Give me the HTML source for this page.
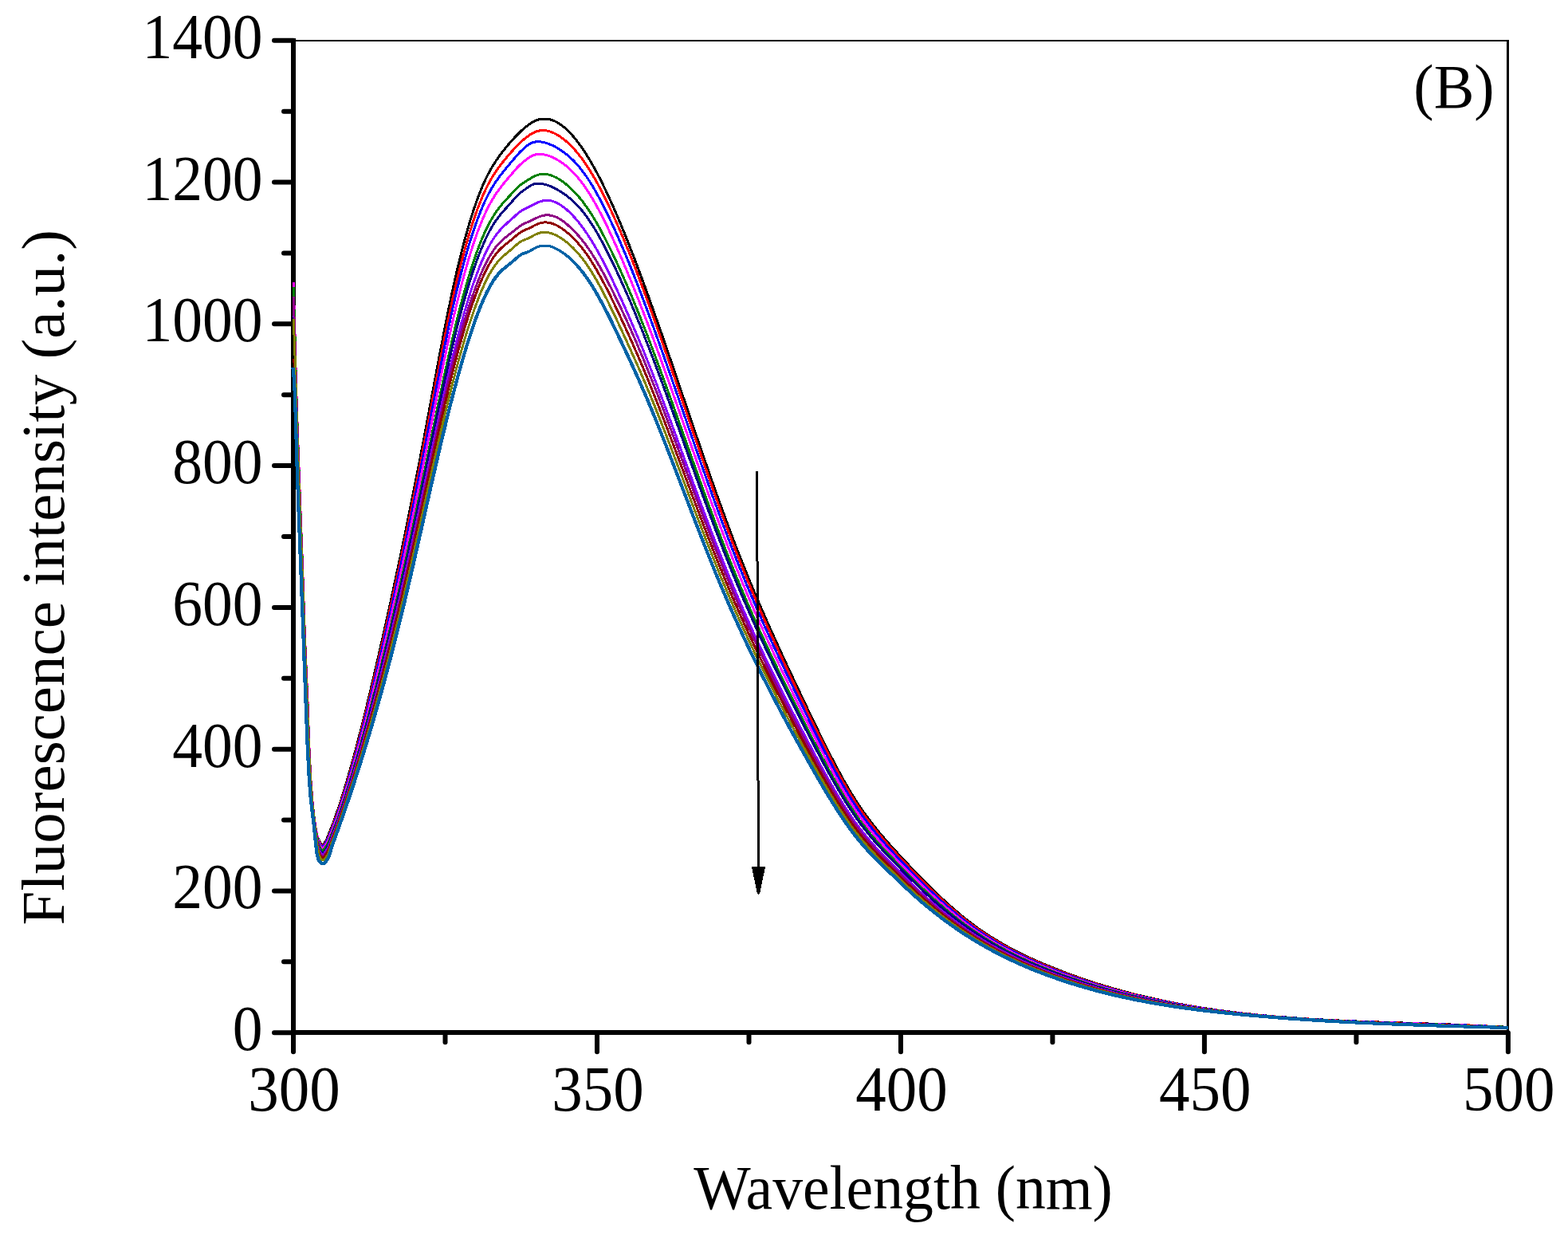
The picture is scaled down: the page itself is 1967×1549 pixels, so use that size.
<!DOCTYPE html>
<html><head><meta charset="utf-8"><title>Fluorescence spectra (B)</title><style>
html,body{margin:0;padding:0;background:#fff;}
svg{display:block;}
text{font-family:"Liberation Serif","Times New Roman",serif;font-size:75.5px;fill:#000;}
</style></head><body>
<svg width="1967" height="1549" viewBox="0 0 1967 1549">
<rect width="1967" height="1549" fill="#fff"/>
<g stroke="#000" fill="none">
<line x1="368" y1="51" x2="1893" y2="51" stroke-width="2.2"/>
<line x1="1891.5" y1="50" x2="1891.5" y2="1295" stroke-width="3"/>
<line x1="368" y1="48" x2="368" y2="1298" stroke-width="6"/>
<line x1="365" y1="1295.1" x2="1892" y2="1295.1" stroke-width="6"/>
</g>
<g stroke="#000" stroke-width="6" stroke-linecap="round" fill="none">
<line x1="344.0" y1="1295.2" x2="368" y2="1295.2"/><line x1="356.0" y1="1206.3" x2="368" y2="1206.3"/><line x1="344.0" y1="1117.4" x2="368" y2="1117.4"/><line x1="356.0" y1="1028.5" x2="368" y2="1028.5"/><line x1="344.0" y1="939.7" x2="368" y2="939.7"/><line x1="356.0" y1="850.8" x2="368" y2="850.8"/><line x1="344.0" y1="761.9" x2="368" y2="761.9"/><line x1="356.0" y1="673.0" x2="368" y2="673.0"/><line x1="344.0" y1="584.1" x2="368" y2="584.1"/><line x1="356.0" y1="495.2" x2="368" y2="495.2"/><line x1="344.0" y1="406.3" x2="368" y2="406.3"/><line x1="356.0" y1="317.5" x2="368" y2="317.5"/><line x1="344.0" y1="228.6" x2="368" y2="228.6"/><line x1="356.0" y1="139.7" x2="368" y2="139.7"/><line x1="344.0" y1="50.8" x2="368" y2="50.8"/><line x1="368.0" y1="1295.2" x2="368.0" y2="1319.2"/><line x1="558.5" y1="1295.2" x2="558.5" y2="1307.2"/><line x1="749.0" y1="1295.2" x2="749.0" y2="1319.2"/><line x1="939.5" y1="1295.2" x2="939.5" y2="1307.2"/><line x1="1130.0" y1="1295.2" x2="1130.0" y2="1319.2"/><line x1="1320.4" y1="1295.2" x2="1320.4" y2="1307.2"/><line x1="1510.9" y1="1295.2" x2="1510.9" y2="1319.2"/><line x1="1701.4" y1="1295.2" x2="1701.4" y2="1307.2"/><line x1="1891.9" y1="1295.2" x2="1891.9" y2="1319.2"/>
</g>
<g fill="none" stroke-width="3.0" stroke-linejoin="round" stroke-linecap="butt" shape-rendering="crispEdges">
<path d="M368,392.0 368.5,401.2 369,412.0 369.5,424.1 370,438.6 370.5,455.6 371,473.3 371.5,491.7 372,508.7 372.5,525.1 373,540.9 373.5,555.9 374,570.3 374.5,584.4 375,598.4 375.5,612.4 376,626.2 376.5,639.7 377,653.0 377.5,666.2 378,679.5 378.5,692.8 379,706.4 379.5,720.3 380,734.7 380.5,749.5 381,764.3 381.5,779.0 382,793.4 382.5,807.1 383,820.1 383.5,832.4 384,844.3 386,892.3 388,946.0 390,983.5 392,1008.1 394,1025.9 396,1040.4 398,1049.2 400,1053.7 402,1057.7 404,1059.8 406,1059.4 408,1055.9 410,1052.3 412,1047.3 414,1042.2 416,1037.2 418,1031.9 420,1026.4 422,1020.7 424,1014.9 426,1008.9 428,1002.8 430,996.4 432,990.0 434,983.4 436,976.6 438,969.7 440,962.7 442,955.5 444,948.2 446,940.8 448,933.3 450,925.6 452,917.8 454,910.0 456,902.0 458,893.9 460,885.8 462,877.5 464,869.2 466,860.7 468,852.2 470,843.7 472,835.0 474,826.3 476,817.5 478,808.7 480,799.8 482,790.9 484,781.9 486,772.9 488,763.8 490,754.7 492,745.5 494,736.2 496,726.9 498,717.6 500,708.2 502,698.7 504,689.2 506,679.6 508,669.9 510,660.2 512,650.4 514,640.5 516,630.6 518,620.6 520,610.6 522,600.5 524,590.3 526,580.0 528,569.7 530,559.2 532,548.8 534,538.2 536,527.6 538,516.9 540,506.2 542,495.5 544,484.8 546,474.1 548,463.5 550,452.9 552,442.4 554,432.0 556,421.7 558,411.5 560,401.4 562,391.5 564,381.8 566,372.3 568,363.0 570,353.9 572,345.0 574,336.4 576,328.0 578,319.9 580,312.0 582,304.4 584,297.0 586,289.8 588,282.9 590,276.3 592,269.9 594,263.7 596,257.8 598,252.1 600,246.6 602,241.5 604,236.5 606,231.8 608,227.3 610,223.1 612,219.1 614,215.3 616,211.7 618,208.3 620,205.1 622,202.0 624,199.1 626,196.3 628,193.6 630,190.9 632,188.4 634,185.9 636,183.4 638,181.0 640,178.7 642,176.4 644,174.2 646,172.1 648,170.0 650,167.9 652,166.0 654,164.1 656,162.2 658,160.5 660,158.9 662,157.3 664,155.9 666,154.5 668,153.3 670,152.3 672,151.3 674,150.5 676,149.9 678,149.4 680,149.1 682,149.0 684,149.0 686,149.1 688,149.4 690,149.8 692,150.4 694,151.2 696,152.0 698,153.0 700,154.1 702,155.4 704,156.8 706,158.3 708,159.9 710,161.6 712,163.5 714,165.5 716,167.6 718,169.8 720,172.1 722,174.5 724,177.1 726,179.7 728,182.5 730,185.3 732,188.3 734,191.3 736,194.4 738,197.7 740,201.0 742,204.4 744,207.9 746,211.5 748,215.2 750,219.0 752,222.8 754,226.8 756,230.8 758,234.9 760,239.0 762,243.3 764,247.6 766,252.0 768,256.4 770,260.9 772,265.5 774,270.1 776,274.8 778,279.6 780,284.4 782,289.3 784,294.2 786,299.2 788,304.2 790,309.3 792,314.4 794,319.5 796,324.7 798,330.0 800,335.3 802,340.6 804,346.0 806,351.4 808,356.9 810,362.3 812,367.8 814,373.4 816,379.0 818,384.6 820,390.2 822,395.9 824,401.6 826,407.3 828,413.0 830,418.7 832,424.5 834,430.3 836,436.1 838,441.9 840,447.8 842,453.6 844,459.5 846,465.3 848,471.2 850,477.1 852,483.0 854,488.9 856,494.8 858,500.7 860,506.6 862,512.5 864,518.4 866,524.3 868,530.2 870,536.0 872,541.9 874,547.8 876,553.6 878,559.5 880,565.3 882,571.1 884,576.9 886,582.7 888,588.5 890,594.2 892,599.9 894,605.6 896,611.3 898,616.9 900,622.6 902,628.2 904,633.7 906,639.2 908,644.7 910,650.2 912,655.6 914,661.0 916,666.4 918,671.7 920,677.0 922,682.2 924,687.4 926,692.5 928,697.6 930,702.7 932,707.7 934,712.7 936,717.6 938,722.6 940,727.4 942,732.3 944,737.1 946,741.8 948,746.6 950,751.3 952,756.0 954,760.6 956,765.2 958,769.8 960,774.4 962,778.9 964,783.4 966,787.9 968,792.4 970,796.8 972,801.2 974,805.6 976,810.0 978,814.4 980,818.7 982,823.1 984,827.4 986,831.7 988,836.0 990,840.2 992,844.5 994,848.8 996,853.0 998,857.2 1000,861.4 1002,865.7 1004,869.9 1006,874.1 1008,878.3 1010,882.5 1012,886.7 1014,890.9 1016,895.0 1018,899.2 1020,903.4 1022,907.5 1024,911.7 1026,915.8 1028,919.9 1030,924.0 1032,928.0 1034,932.1 1036,936.1 1038,940.1 1040,944.0 1042,947.9 1044,951.8 1046,955.7 1048,959.5 1050,963.2 1052,967.0 1054,970.6 1056,974.3 1058,977.9 1060,981.4 1062,984.9 1064,988.3 1066,991.7 1068,995.0 1070,998.3 1072,1001.5 1074,1004.6 1076,1007.7 1078,1010.7 1080,1013.7 1082,1016.6 1084,1019.4 1086,1022.2 1088,1025.0 1090,1027.6 1092,1030.3 1094,1032.9 1096,1035.4 1098,1038.0 1100,1040.4 1102,1042.9 1104,1045.3 1106,1047.7 1108,1050.0 1110,1052.3 1112,1054.6 1114,1056.9 1116,1059.1 1118,1061.4 1120,1063.6 1122,1065.8 1124,1067.9 1126,1070.1 1128,1072.3 1130,1074.4 1132,1076.6 1134,1078.7 1136,1080.8 1138,1082.9 1140,1085.1 1142,1087.2 1144,1089.3 1146,1091.4 1148,1093.5 1150,1095.5 1152,1097.6 1154,1099.7 1156,1101.7 1158,1103.7 1160,1105.8 1162,1107.8 1164,1109.8 1166,1111.8 1168,1113.7 1170,1115.7 1172,1117.6 1174,1119.6 1176,1121.5 1178,1123.4 1180,1125.3 1182,1127.2 1184,1129.0 1186,1130.8 1188,1132.7 1190,1134.5 1192,1136.3 1194,1138.0 1196,1139.8 1198,1141.5 1200,1143.2 1204,1146.6 1208,1149.9 1212,1153.1 1216,1156.2 1220,1159.2 1224,1162.1 1228,1165.0 1232,1167.8 1236,1170.5 1240,1173.1 1244,1175.6 1248,1178.1 1252,1180.5 1256,1182.9 1260,1185.2 1264,1187.4 1268,1189.6 1272,1191.7 1276,1193.7 1280,1195.8 1284,1197.7 1288,1199.6 1292,1201.5 1296,1203.3 1300,1205.1 1304,1206.9 1308,1208.6 1312,1210.3 1316,1211.9 1320,1213.5 1324,1215.1 1328,1216.7 1332,1218.3 1336,1219.8 1340,1221.3 1344,1222.7 1348,1224.2 1352,1225.6 1356,1227.0 1360,1228.4 1364,1229.7 1368,1231.0 1372,1232.3 1376,1233.6 1380,1234.9 1384,1236.1 1388,1237.3 1392,1238.5 1396,1239.7 1400,1240.8 1404,1241.9 1408,1243.0 1412,1244.1 1416,1245.1 1420,1246.2 1424,1247.2 1428,1248.2 1432,1249.1 1436,1250.1 1440,1251.0 1444,1251.9 1448,1252.8 1452,1253.7 1456,1254.6 1460,1255.4 1464,1256.2 1468,1257.0 1472,1257.8 1476,1258.6 1480,1259.3 1484,1260.1 1488,1260.8 1492,1261.5 1496,1262.2 1500,1262.8 1504,1263.5 1508,1264.1 1512,1264.7 1516,1265.3 1520,1265.9 1524,1266.5 1528,1267.1 1532,1267.6 1536,1268.2 1540,1268.7 1544,1269.2 1548,1269.7 1552,1270.1 1556,1270.6 1560,1271.1 1564,1271.5 1568,1271.9 1572,1272.4 1576,1272.8 1580,1273.2 1584,1273.5 1588,1273.9 1592,1274.3 1596,1274.6 1600,1275.0 1604,1275.3 1608,1275.6 1612,1275.9 1616,1276.2 1620,1276.5 1624,1276.8 1628,1277.1 1632,1277.4 1636,1277.6 1640,1277.9 1644,1278.1 1648,1278.4 1652,1278.6 1656,1278.8 1660,1279.0 1664,1279.2 1668,1279.4 1672,1279.6 1676,1279.8 1680,1280.0 1684,1280.2 1688,1280.4 1692,1280.6 1696,1280.7 1700,1280.9 1704,1281.1 1708,1281.2 1712,1281.4 1716,1281.5 1720,1281.7 1724,1281.8 1728,1281.9 1732,1282.1 1736,1282.2 1740,1282.4 1744,1282.5 1748,1282.6 1752,1282.7 1756,1282.9 1760,1283.0 1764,1283.1 1768,1283.3 1772,1283.4 1776,1283.5 1780,1283.6 1784,1283.8 1788,1283.9 1792,1284.0 1796,1284.2 1800,1284.3 1804,1284.4 1808,1284.6 1812,1284.7 1816,1284.9 1820,1285.0 1824,1285.2 1828,1285.3 1832,1285.5 1836,1285.6 1840,1285.8 1844,1286.0 1848,1286.1 1852,1286.3 1856,1286.5 1860,1286.7 1864,1286.9 1868,1287.1 1872,1287.3 1876,1287.5 1880,1287.7 1884,1287.9 1888,1288.2 1892,1288.4" stroke="#000000"/>
<path d="M368,392.0 368.5,401.2 369,412.0 369.5,424.1 370,438.6 370.5,455.6 371,473.3 371.5,491.7 372,508.7 372.5,525.1 373,540.9 373.5,555.9 374,570.3 374.5,584.4 375,598.4 375.5,612.4 376,626.2 376.5,639.7 377,653.0 377.5,666.2 378,679.5 378.5,692.8 379,706.4 379.5,720.3 380,734.7 380.5,749.5 381,764.3 381.5,779.0 382,793.4 382.5,807.1 383,820.1 383.5,832.4 384,844.3 386,892.3 388,946.0 390,983.5 392,1008.1 394,1025.9 396,1040.5 398,1049.8 400,1054.8 402,1058.8 404,1061.0 406,1060.6 408,1057.2 410,1053.7 412,1048.9 414,1044.0 416,1038.9 418,1033.7 420,1028.4 422,1022.8 424,1017.0 426,1011.1 428,1005.0 430,998.7 432,992.3 434,985.8 436,979.1 438,972.3 440,965.4 442,958.3 444,951.1 446,943.8 448,936.4 450,928.8 452,921.2 454,913.5 456,905.6 458,897.7 460,889.7 462,881.5 464,873.3 466,865.1 468,856.7 470,848.3 472,839.8 474,831.2 476,822.6 478,813.9 480,805.2 482,796.4 484,787.6 486,778.7 488,769.7 490,760.7 492,751.7 494,742.5 496,733.4 498,724.1 500,714.8 502,705.5 504,696.1 506,686.6 508,677.0 510,667.4 512,657.8 514,648.0 516,638.2 518,628.3 520,618.4 522,608.4 524,598.3 526,588.2 528,578.0 530,567.7 532,557.4 534,547.0 536,536.5 538,526.0 540,515.5 542,504.9 544,494.4 546,483.9 548,473.4 550,463.0 552,452.7 554,442.5 556,432.3 558,422.3 560,412.4 562,402.7 564,393.2 566,383.8 568,374.6 570,365.7 572,356.9 574,348.4 576,340.2 578,332.2 580,324.4 582,316.8 584,309.5 586,302.4 588,295.6 590,289.0 592,282.7 594,276.5 596,270.6 597.999,265.0 599.999,259.6 601.999,254.4 603.998,249.5 605.998,244.8 607.997,240.3 609.995,236.1 611.994,232.1 613.991,228.3 615.988,224.8 617.984,221.4 619.979,218.2 621.972,215.2 623.963,212.3 625.952,209.6 627.939,206.9 629.922,204.4 631.901,201.9 633.876,199.5 635.845,197.1 637.809,194.8 639.767,192.6 641.718,190.4 643.662,188.2 645.598,186.1 647.526,184.1 649.446,182.1 651.359,180.1 653.264,178.3 655.163,176.6 657.056,174.9 658.945,173.4 660.832,171.9 662.718,170.5 664.605,169.2 666.495,168.0 668.391,166.9 670.296,166.0 672.21,165.2 674.137,164.5 676.078,164.1 678.035,163.7 680.009,163.6 682,163.6 684.009,163.7 686.035,164.0 688.078,164.5 690.137,165.1 692.21,165.8 694.296,166.7 696.391,167.6 698.495,168.8 700.605,170.0 702.718,171.4 704.832,172.9 706.945,174.5 709.056,176.2 711.163,178.0 713.264,180.0 715.359,182.0 717.446,184.0 719.526,186.2 721.598,188.5 723.662,190.9 725.718,193.4 727.767,196.0 729.809,198.7 731.845,201.5 733.876,204.4 735.901,207.4 737.922,210.5 739.939,213.7 741.952,217.0 743.963,220.4 745.972,223.8 747.979,227.4 749.984,231.0 751.988,234.7 753.991,238.5 755.994,242.4 757.995,246.4 759.997,250.4 761.998,254.5 763.998,258.7 765.999,262.9 767.999,267.3 769.999,271.6 772,276.1 774,280.6 776,285.1 778,289.8 780,294.4 782,299.1 784,303.9 786,308.8 788,313.6 790,318.5 792,323.6 794,328.7 796,333.9 798,339.1 800,344.3 802,349.6 804,354.9 806,360.3 808,365.6 810,371.1 812,376.5 814,382.0 816,387.5 818,393.1 820,398.7 822,404.3 824,409.9 826,415.6 828,421.3 830,427.0 832,432.7 834,438.4 836,444.2 838,450.0 840,455.7 842,461.5 844,467.4 846,473.2 848,479.0 850,484.9 852,490.7 854,496.6 856,502.4 858,508.3 860,514.1 862,520.0 864,525.8 866,531.7 868,537.5 870,543.4 872,549.2 874,555.0 876,560.8 878,566.6 880,572.4 882,578.2 884,583.9 886,589.6 888,595.4 890,601.1 892,606.7 894,612.4 896,618.0 898,623.6 900,629.2 902,634.7 904,640.2 906,645.7 908,651.1 910,656.5 912,661.9 914,667.3 916,672.6 918,677.8 920,683.1 922,688.2 924,693.4 926,698.5 928,703.5 930,708.5 932,713.5 934,718.5 936,723.4 938,728.2 940,733.1 942,737.8 944,742.6 946,747.3 948,752.0 950,756.7 952,761.3 954,765.9 956,770.5 958,775.1 960,779.6 962,784.1 964,788.6 966,793.0 968,797.4 970,801.8 972,806.2 974,810.6 976,814.9 978,819.3 980,823.6 982,827.9 984,832.1 986,836.4 988,840.6 990,844.9 992,849.1 994,853.3 996,857.5 998,861.7 1000,865.9 1002,870.1 1004,874.2 1006,878.4 1008,882.6 1010,886.7 1012,890.9 1014,895.0 1016,899.2 1018,903.3 1020,907.4 1022,911.5 1024,915.6 1026,919.7 1028,923.7 1030,927.8 1032,931.8 1034,935.8 1036,939.8 1038,943.7 1040,947.6 1042,951.5 1044,955.3 1046,959.1 1048,962.9 1050,966.6 1052,970.3 1054,973.9 1056,977.5 1058,981.1 1060,984.6 1062,988.0 1064,991.4 1066,994.8 1068,998.1 1070,1001.3 1072,1004.4 1074,1007.5 1076,1010.6 1078,1013.6 1080,1016.5 1082,1019.3 1084,1022.1 1086,1024.9 1088,1027.6 1090,1030.3 1092,1032.9 1094,1035.4 1096,1038.0 1098,1040.5 1100,1042.9 1102,1045.3 1104,1047.7 1106,1050.0 1108,1052.4 1110,1054.7 1112,1056.9 1114,1059.2 1116,1061.4 1118,1063.6 1120,1065.8 1122,1068.0 1124,1070.1 1126,1072.3 1128,1074.4 1130,1076.5 1132,1078.7 1134,1080.8 1136,1082.9 1138,1085.0 1140,1087.1 1142,1089.2 1144,1091.3 1146,1093.4 1148,1095.4 1150,1097.5 1152,1099.5 1154,1101.6 1156,1103.6 1158,1105.6 1160,1107.6 1162,1109.6 1164,1111.6 1166,1113.5 1168,1115.5 1170,1117.4 1172,1119.3 1174,1121.3 1176,1123.2 1178,1125.0 1180,1126.9 1182,1128.7 1184,1130.6 1186,1132.4 1188,1134.2 1190,1136.0 1192,1137.7 1194,1139.5 1196,1141.2 1198,1142.9 1200,1144.6 1204,1147.9 1208,1151.2 1212,1154.3 1216,1157.4 1220,1160.4 1224,1163.3 1228,1166.1 1232,1168.9 1236,1171.5 1240,1174.1 1244,1176.7 1248,1179.1 1252,1181.5 1256,1183.9 1260,1186.1 1264,1188.3 1268,1190.5 1272,1192.6 1276,1194.6 1280,1196.6 1284,1198.6 1288,1200.5 1292,1202.3 1296,1204.1 1300,1205.9 1304,1207.7 1308,1209.4 1312,1211.0 1316,1212.7 1320,1214.3 1324,1215.9 1328,1217.4 1332,1219.0 1336,1220.5 1340,1222.0 1344,1223.4 1348,1224.8 1352,1226.2 1356,1227.6 1360,1229.0 1364,1230.3 1368,1231.6 1372,1232.9 1376,1234.2 1380,1235.4 1384,1236.6 1388,1237.8 1392,1239.0 1396,1240.1 1400,1241.3 1404,1242.4 1408,1243.5 1412,1244.5 1416,1245.6 1420,1246.6 1424,1247.6 1428,1248.6 1432,1249.5 1436,1250.5 1440,1251.4 1444,1252.3 1448,1253.2 1452,1254.0 1456,1254.9 1460,1255.7 1464,1256.5 1468,1257.3 1472,1258.1 1476,1258.8 1480,1259.6 1484,1260.3 1488,1261.0 1492,1261.7 1496,1262.4 1500,1263.0 1504,1263.7 1508,1264.3 1512,1264.9 1516,1265.5 1520,1266.1 1524,1266.6 1528,1267.2 1532,1267.7 1536,1268.3 1540,1268.8 1544,1269.3 1548,1269.8 1552,1270.2 1556,1270.7 1560,1271.1 1564,1271.6 1568,1272.0 1572,1272.4 1576,1272.8 1580,1273.2 1584,1273.6 1588,1274.0 1592,1274.3 1596,1274.7 1600,1275.0 1604,1275.3 1608,1275.7 1612,1276.0 1616,1276.3 1620,1276.6 1624,1276.9 1628,1277.1 1632,1277.4 1636,1277.7 1640,1277.9 1644,1278.2 1648,1278.4 1652,1278.6 1656,1278.9 1660,1279.1 1664,1279.3 1668,1279.5 1672,1279.7 1676,1279.9 1680,1280.1 1684,1280.3 1688,1280.4 1692,1280.6 1696,1280.8 1700,1281.0 1704,1281.1 1708,1281.3 1712,1281.4 1716,1281.6 1720,1281.7 1724,1281.9 1728,1282.0 1732,1282.2 1736,1282.3 1740,1282.4 1744,1282.6 1748,1282.7 1752,1282.8 1756,1283.0 1760,1283.1 1764,1283.2 1768,1283.4 1772,1283.5 1776,1283.6 1780,1283.7 1784,1283.9 1788,1284.0 1792,1284.1 1796,1284.3 1800,1284.4 1804,1284.5 1808,1284.7 1812,1284.8 1816,1285.0 1820,1285.1 1824,1285.2 1828,1285.4 1832,1285.6 1836,1285.7 1840,1285.9 1844,1286.0 1848,1286.2 1852,1286.4 1856,1286.6 1860,1286.7 1864,1286.9 1868,1287.1 1872,1287.3 1876,1287.5 1880,1287.7 1884,1288.0 1888,1288.2 1892,1288.4" stroke="#ff0000"/>
<path d="M368,392.0 368.5,401.2 369,412.0 369.5,424.1 370,438.6 370.5,455.6 371,473.3 371.5,491.7 372,508.7 372.5,525.1 373,540.9 373.5,555.9 374,570.3 374.5,584.4 375,598.4 375.5,612.4 376,626.2 376.5,639.7 377,653.0 377.5,666.2 378,679.5 378.5,692.8 379,706.4 379.5,720.3 380,734.7 380.5,749.5 381,764.3 381.5,779.0 382,793.4 382.5,807.1 383,820.1 383.5,832.4 384,844.3 386,892.3 388,946.0 390,983.5 392,1008.1 394,1025.9 396,1040.6 398,1050.3 400,1055.7 402,1059.8 404,1061.9 406,1061.5 408,1058.1 410,1054.9 412,1050.4 414,1045.6 416,1040.5 418,1035.5 420,1030.3 422,1025.0 424,1019.2 426,1013.3 428,1007.2 430,1001.0 432,994.7 434,988.2 436,981.6 438,974.9 440,968.1 442,961.1 444,954.0 446,946.8 448,939.5 450,932.1 452,924.6 454,917.0 456,909.3 458,901.5 460,893.6 462,885.6 464,877.6 466,869.5 468,861.2 470,853.0 472,844.6 474,836.2 476,827.7 478,819.2 480,810.6 482,802.0 484,793.3 486,784.5 488,775.7 490,766.8 492,757.9 494,748.9 496,739.9 498,730.8 500,721.6 502,712.4 504,703.1 506,693.7 508,684.3 510,674.8 512,665.2 514,655.6 516,645.9 518,636.1 520,626.3 522,616.4 524,606.5 526,596.5 528,586.4 530,576.3 532,566.1 534,555.8 536,545.5 538,535.2 540,524.8 542,514.5 544,504.1 546,493.8 548,483.5 550,473.3 552,463.1 554,453.1 556,443.1 558,433.3 560,423.6 562,414.0 564,404.6 566,395.4 568,386.4 570,377.5 572,368.9 574,360.6 576,352.4 578,344.5 580,336.8 582,329.3 584,322.1 586,315.0 588,308.3 590,301.7 591.999,295.4 593.999,289.3 595.999,283.4 597.998,277.8 599.997,272.4 601.995,267.3 603.993,262.3 605.991,257.6 607.987,253.2 609.982,249.0 611.975,245.0 613.965,241.2 615.953,237.7 617.937,234.3 619.916,231.1 621.888,228.1 623.853,225.3 625.81,222.6 627.755,220.0 629.687,217.5 631.603,215.1 633.503,212.7 635.382,210.5 637.238,208.2 639.069,206.0 640.873,203.9 642.648,201.8 644.392,199.7 646.105,197.7 647.786,195.7 649.436,193.8 651.057,192.1 652.652,190.4 654.225,188.9 655.782,187.4 657.328,186.0 658.871,184.7 660.419,183.4 661.981,182.2 663.566,181.1 665.183,180.2 666.841,179.4 668.549,178.7 670.314,178.2 672.141,177.9 674.035,177.8 676,177.8 678.035,177.9 680.141,178.2 682.314,178.6 684.549,179.2 686.841,180.0 689.183,180.8 691.566,181.8 693.981,182.9 696.419,184.1 698.871,185.5 701.328,187.0 703.782,188.6 706.225,190.3 708.652,192.1 711.057,194.0 713.436,196.0 715.786,198.0 718.105,200.2 720.392,202.5 722.648,204.9 724.873,207.4 727.069,210.0 729.238,212.7 731.382,215.5 733.503,218.4 735.603,221.4 737.687,224.5 739.755,227.6 741.81,230.9 743.853,234.3 745.888,237.8 747.916,241.3 749.937,245.0 751.953,248.7 753.965,252.5 755.975,256.4 757.982,260.4 759.987,264.4 761.991,268.5 763.993,272.7 765.995,276.9 767.997,281.2 769.998,285.6 771.999,290.0 773.999,294.5 775.999,299.0 778,303.6 780,308.3 782,313.0 784,317.7 786,322.5 788,327.3 790,332.2 792,337.2 794,342.2 796,347.3 798,352.4 800,357.6 802,362.8 804,368.0 806,373.3 808,378.6 810,383.9 812,389.3 814,394.7 816,400.1 818,405.6 820,411.1 822,416.7 824,422.2 826,427.8 828,433.4 830,439.0 832,444.7 834,450.4 836,456.0 838,461.8 840,467.5 842,473.2 844,479.0 846,484.7 848,490.5 850,496.2 852,502.0 854,507.8 856,513.6 858,519.4 860,525.2 862,531.0 864,536.8 866,542.5 868,548.3 870,554.1 872,559.9 874,565.6 876,571.4 878,577.1 880,582.8 882,588.5 884,594.2 886,599.8 888,605.5 890,611.1 892,616.7 894,622.3 896,627.8 898,633.4 900,638.9 902,644.3 904,649.8 906,655.2 908,660.5 910,665.9 912,671.2 914,676.4 916,681.7 918,686.9 920,692.0 922,697.1 924,702.2 926,707.2 928,712.2 930,717.1 932,722.1 934,726.9 936,731.8 938,736.6 940,741.3 942,746.1 944,750.8 946,755.4 948,760.1 950,764.7 952,769.2 954,773.8 956,778.3 958,782.8 960,787.3 962,791.7 964,796.1 966,800.5 968,804.9 970,809.2 972,813.6 974,817.9 976,822.1 978,826.4 980,830.7 982,834.9 984,839.1 986,843.3 988,847.5 990,851.7 992,855.9 994,860.0 996,864.2 998,868.3 1000,872.4 1002,876.5 1004,880.6 1006,884.7 1008,888.8 1010,892.9 1012,897.0 1014,901.1 1016,905.2 1018,909.3 1020,913.3 1022,917.4 1024,921.4 1026,925.4 1028,929.4 1030,933.4 1032,937.3 1034,941.3 1036,945.2 1038,949.0 1040,952.9 1042,956.7 1044,960.5 1046,964.2 1048,967.9 1050,971.6 1052,975.2 1054,978.8 1056,982.3 1058,985.8 1060,989.3 1062,992.7 1064,996.0 1066,999.3 1068,1002.5 1070,1005.7 1072,1008.8 1074,1011.8 1076,1014.8 1078,1017.7 1080,1020.6 1082,1023.4 1084,1026.2 1086,1028.9 1088,1031.5 1090,1034.1 1092,1036.7 1094,1039.2 1096,1041.7 1098,1044.1 1100,1046.5 1102,1048.9 1104,1051.2 1106,1053.5 1108,1055.8 1110,1058.1 1112,1060.3 1114,1062.5 1116,1064.7 1118,1066.9 1120,1069.0 1122,1071.2 1124,1073.3 1126,1075.4 1128,1077.6 1130,1079.7 1132,1081.8 1134,1083.9 1136,1086.0 1138,1088.0 1140,1090.1 1142,1092.2 1144,1094.2 1146,1096.3 1148,1098.3 1150,1100.4 1152,1102.4 1154,1104.4 1156,1106.4 1158,1108.4 1160,1110.3 1162,1112.3 1164,1114.2 1166,1116.2 1168,1118.1 1170,1120.0 1172,1121.9 1174,1123.7 1176,1125.6 1178,1127.4 1180,1129.3 1182,1131.1 1184,1132.9 1186,1134.7 1188,1136.4 1190,1138.2 1192,1139.9 1194,1141.6 1196,1143.3 1198,1145.0 1200,1146.7 1204,1149.9 1208,1153.1 1212,1156.2 1216,1159.2 1220,1162.1 1224,1165.0 1228,1167.8 1232,1170.5 1236,1173.1 1240,1175.7 1244,1178.2 1248,1180.6 1252,1183.0 1256,1185.3 1260,1187.5 1264,1189.7 1268,1191.8 1272,1193.9 1276,1195.9 1280,1197.9 1284,1199.8 1288,1201.7 1292,1203.5 1296,1205.3 1300,1207.1 1304,1208.8 1308,1210.5 1312,1212.2 1316,1213.8 1320,1215.4 1324,1216.9 1328,1218.5 1332,1220.0 1336,1221.5 1340,1223.0 1344,1224.4 1348,1225.8 1352,1227.2 1356,1228.6 1360,1229.9 1364,1231.2 1368,1232.5 1372,1233.8 1376,1235.0 1380,1236.2 1384,1237.4 1388,1238.6 1392,1239.7 1396,1240.9 1400,1242.0 1404,1243.1 1408,1244.1 1412,1245.2 1416,1246.2 1420,1247.2 1424,1248.2 1428,1249.1 1432,1250.1 1436,1251.0 1440,1251.9 1444,1252.8 1448,1253.6 1452,1254.5 1456,1255.3 1460,1256.1 1464,1256.9 1468,1257.7 1472,1258.5 1476,1259.2 1480,1259.9 1484,1260.6 1488,1261.3 1492,1262.0 1496,1262.6 1500,1263.3 1504,1263.9 1508,1264.5 1512,1265.1 1516,1265.7 1520,1266.3 1524,1266.8 1528,1267.4 1532,1267.9 1536,1268.4 1540,1268.9 1544,1269.4 1548,1269.9 1552,1270.3 1556,1270.8 1560,1271.2 1564,1271.7 1568,1272.1 1572,1272.5 1576,1272.9 1580,1273.3 1584,1273.7 1588,1274.0 1592,1274.4 1596,1274.7 1600,1275.1 1604,1275.4 1608,1275.7 1612,1276.0 1616,1276.3 1620,1276.6 1624,1276.9 1628,1277.2 1632,1277.4 1636,1277.7 1640,1278.0 1644,1278.2 1648,1278.5 1652,1278.7 1656,1278.9 1660,1279.1 1664,1279.3 1668,1279.6 1672,1279.8 1676,1280.0 1680,1280.2 1684,1280.3 1688,1280.5 1692,1280.7 1696,1280.9 1700,1281.0 1704,1281.2 1708,1281.4 1712,1281.5 1716,1281.7 1720,1281.8 1724,1282.0 1728,1282.1 1732,1282.3 1736,1282.4 1740,1282.6 1744,1282.7 1748,1282.8 1752,1283.0 1756,1283.1 1760,1283.2 1764,1283.4 1768,1283.5 1772,1283.6 1776,1283.7 1780,1283.9 1784,1284.0 1788,1284.1 1792,1284.3 1796,1284.4 1800,1284.5 1804,1284.7 1808,1284.8 1812,1284.9 1816,1285.1 1820,1285.2 1824,1285.4 1828,1285.5 1832,1285.7 1836,1285.8 1840,1286.0 1844,1286.1 1848,1286.3 1852,1286.5 1856,1286.6 1860,1286.8 1864,1287.0 1868,1287.2 1872,1287.4 1876,1287.6 1880,1287.8 1884,1288.0 1888,1288.2 1892,1288.4" stroke="#0000ff"/>
<path d="M368,354.0 368.5,367.5 369,382.5 369.5,399.0 370,418.0 370.5,439.4 371,460.9 371.5,480.0 372,496.9 372.5,513.0 373,528.4 373.5,543.2 374,557.6 374.5,571.8 375,585.9 375.5,600.0 376,614.0 376.5,627.5 377,640.9 377.5,654.1 378,667.3 378.5,680.7 379,694.4 379.5,708.6 380,723.4 380.5,738.6 381,753.9 381.5,769.0 382,783.6 382.5,797.4 383,810.1 383.5,822.1 384,833.5 386,880.0 388,938.0 390,978.7 392,1005.4 394,1024.0 396,1037.9 398,1048.3 400,1056.3 402,1061.7 404,1063.7 406,1063.4 408,1060.1 410,1057.1 412,1052.9 414,1048.1 416,1043.0 418,1038.1 420,1033.1 422,1028.0 424,1022.2 426,1016.4 428,1010.4 430,1004.2 432,998.0 434,991.6 436,985.1 438,978.5 440,971.8 442,965.0 444,958.1 446,951.0 448,943.9 450,936.7 452,929.3 454,921.9 456,914.4 458,906.8 460,899.1 462,891.3 464,883.5 466,875.5 468,867.5 470,859.5 472,851.3 474,843.1 476,834.8 478,826.5 480,818.1 482,809.7 484,801.2 486,792.6 488,784.0 490,775.3 492,766.6 494,757.7 496,748.9 498,740.0 500,731.0 502,721.9 504,712.8 506,703.6 508,694.3 510,685.0 512,675.6 514,666.1 516,656.6 518,647.0 520,637.3 522,627.6 524,617.8 526,608.0 528,598.1 530,588.2 532,578.2 534,568.1 536,558.0 538,547.9 540,537.8 542,527.7 544,517.6 546,507.5 548,497.5 550,487.5 552,477.6 554,467.8 556,458.1 558,448.5 560,439.0 562,429.6 564,420.4 566,411.3 568,402.4 570,393.7 572,385.2 574,376.8 576,368.8 578,360.9 580,353.2 582,345.7 584,338.5 586,331.5 588,324.7 590,318.1 592,311.8 593.999,305.6 595.999,299.7 597.998,294.0 599.998,288.6 601.997,283.4 603.995,278.4 605.993,273.6 607.99,269.1 609.986,264.8 611.981,260.7 613.974,256.9 615.965,253.2 617.953,249.8 619.937,246.6 621.916,243.5 623.89,240.6 625.857,237.9 627.816,235.3 629.765,232.8 631.703,230.4 633.627,228.0 635.536,225.7 637.428,223.5 639.302,221.3 641.155,219.1 642.986,217.0 644.794,214.9 646.578,212.8 648.339,210.8 650.077,208.9 651.793,207.2 653.489,205.7 655.169,204.2 656.836,202.9 658.496,201.5 660.153,200.3 661.814,199.0 663.485,197.8 665.174,196.8 666.887,195.8 668.631,195.0 670.412,194.3 672.235,193.8 674.106,193.5 676.027,193.4 678,193.4 680.027,193.5 682.106,193.8 684.235,194.2 686.412,194.8 688.631,195.5 690.887,196.4 693.174,197.4 695.485,198.5 697.814,199.7 700.153,201.1 702.496,202.5 704.836,204.1 707.169,205.7 709.489,207.5 711.793,209.4 714.077,211.4 716.339,213.5 718.578,215.7 720.794,218.0 722.986,220.5 725.155,223.0 727.302,225.6 729.428,228.4 731.536,231.2 733.627,234.1 735.703,237.2 737.765,240.3 739.816,243.5 741.857,246.9 743.89,250.3 745.916,253.8 747.937,257.4 749.953,261.1 751.965,264.8 753.974,268.7 755.981,272.6 757.986,276.6 759.99,280.7 761.993,284.8 763.995,289.0 765.997,293.3 767.998,297.6 769.998,302.0 771.999,306.5 773.999,311.0 776,315.5 778,320.1 780,324.8 782,329.5 784,334.2 786,339.0 788,343.8 790,348.7 792,353.6 794,358.5 796,363.5 798,368.5 800,373.6 802,378.7 804,383.8 806,389.0 808,394.2 810,399.4 812,404.7 814,410.0 816,415.3 818,420.7 820,426.1 822,431.6 824,437.0 826,442.5 828,448.1 830,453.6 832,459.2 834,464.8 836,470.4 838,476.0 840,481.6 842,487.3 844,492.9 846,498.6 848,504.3 850,510.0 852,515.7 854,521.4 856,527.1 858,532.8 860,538.5 862,544.2 864,550.0 866,555.7 868,561.4 870,567.0 872,572.7 874,578.4 876,584.1 878,589.7 880,595.4 882,601.0 884,606.6 886,612.2 888,617.7 890,623.3 892,628.8 894,634.3 896,639.7 898,645.2 900,650.6 902,656.0 904,661.3 906,666.6 908,671.9 910,677.1 912,682.3 914,687.5 916,692.6 918,697.7 920,702.8 922,707.8 924,712.8 926,717.7 928,722.6 930,727.5 932,732.3 934,737.1 936,741.9 938,746.6 940,751.3 942,756.0 944,760.6 946,765.2 948,769.7 950,774.3 952,778.8 954,783.2 956,787.7 958,792.1 960,796.5 962,800.9 964,805.2 966,809.5 968,813.8 970,818.1 972,822.4 974,826.6 976,830.8 978,835.0 980,839.2 982,843.4 984,847.5 986,851.7 988,855.8 990,859.9 992,864.0 994,868.1 996,872.2 998,876.2 1000,880.3 1002,884.3 1004,888.4 1006,892.4 1008,896.4 1010,900.5 1012,904.5 1014,908.5 1016,912.5 1018,916.5 1020,920.5 1022,924.4 1024,928.4 1026,932.3 1028,936.2 1030,940.1 1032,944.0 1034,947.9 1036,951.7 1038,955.5 1040,959.3 1042,963.0 1044,966.7 1046,970.4 1048,974.0 1050,977.6 1052,981.1 1054,984.6 1056,988.1 1058,991.5 1060,994.9 1062,998.2 1064,1001.5 1066,1004.7 1068,1007.8 1070,1010.9 1072,1014.0 1074,1017.0 1076,1019.9 1078,1022.7 1080,1025.5 1082,1028.3 1084,1031.0 1086,1033.6 1088,1036.2 1090,1038.8 1092,1041.3 1094,1043.7 1096,1046.2 1098,1048.5 1100,1050.9 1102,1053.2 1104,1055.5 1106,1057.8 1108,1060.0 1110,1062.2 1112,1064.4 1114,1066.6 1116,1068.7 1118,1070.8 1120,1073.0 1122,1075.1 1124,1077.2 1126,1079.3 1128,1081.4 1130,1083.4 1132,1085.5 1134,1087.6 1136,1089.7 1138,1091.7 1140,1093.8 1142,1095.8 1144,1097.8 1146,1099.8 1148,1101.8 1150,1103.8 1152,1105.8 1154,1107.8 1156,1109.7 1158,1111.7 1160,1113.6 1162,1115.5 1164,1117.4 1166,1119.3 1168,1121.2 1170,1123.1 1172,1124.9 1174,1126.7 1176,1128.6 1178,1130.4 1180,1132.1 1182,1133.9 1184,1135.7 1186,1137.4 1188,1139.1 1190,1140.8 1192,1142.5 1194,1144.2 1196,1145.9 1198,1147.5 1200,1149.1 1204,1152.3 1208,1155.4 1212,1158.4 1216,1161.4 1220,1164.3 1224,1167.1 1228,1169.8 1232,1172.4 1236,1175.0 1240,1177.5 1244,1180.0 1248,1182.4 1252,1184.7 1256,1187.0 1260,1189.2 1264,1191.3 1268,1193.4 1272,1195.5 1276,1197.5 1280,1199.4 1284,1201.3 1288,1203.2 1292,1205.0 1296,1206.8 1300,1208.5 1304,1210.2 1308,1211.9 1312,1213.5 1316,1215.1 1320,1216.7 1324,1218.2 1328,1219.8 1332,1221.3 1336,1222.7 1340,1224.2 1344,1225.6 1348,1227.0 1352,1228.3 1356,1229.7 1360,1231.0 1364,1232.3 1368,1233.5 1372,1234.8 1376,1236.0 1380,1237.2 1384,1238.4 1388,1239.5 1392,1240.6 1396,1241.8 1400,1242.8 1404,1243.9 1408,1244.9 1412,1246.0 1416,1247.0 1420,1247.9 1424,1248.9 1428,1249.8 1432,1250.7 1436,1251.6 1440,1252.5 1444,1253.4 1448,1254.2 1452,1255.1 1456,1255.9 1460,1256.6 1464,1257.4 1468,1258.2 1472,1258.9 1476,1259.6 1480,1260.3 1484,1261.0 1488,1261.7 1492,1262.3 1496,1263.0 1500,1263.6 1504,1264.2 1508,1264.8 1512,1265.4 1516,1266.0 1520,1266.5 1524,1267.1 1528,1267.6 1532,1268.1 1536,1268.6 1540,1269.1 1544,1269.6 1548,1270.0 1552,1270.5 1556,1270.9 1560,1271.4 1564,1271.8 1568,1272.2 1572,1272.6 1576,1273.0 1580,1273.4 1584,1273.7 1588,1274.1 1592,1274.5 1596,1274.8 1600,1275.1 1604,1275.5 1608,1275.8 1612,1276.1 1616,1276.4 1620,1276.7 1624,1277.0 1628,1277.2 1632,1277.5 1636,1277.8 1640,1278.0 1644,1278.3 1648,1278.5 1652,1278.8 1656,1279.0 1660,1279.2 1664,1279.4 1668,1279.6 1672,1279.8 1676,1280.0 1680,1280.2 1684,1280.4 1688,1280.6 1692,1280.8 1696,1281.0 1700,1281.1 1704,1281.3 1708,1281.5 1712,1281.6 1716,1281.8 1720,1282.0 1724,1282.1 1728,1282.3 1732,1282.4 1736,1282.6 1740,1282.7 1744,1282.8 1748,1283.0 1752,1283.1 1756,1283.2 1760,1283.4 1764,1283.5 1768,1283.6 1772,1283.8 1776,1283.9 1780,1284.0 1784,1284.2 1788,1284.3 1792,1284.4 1796,1284.6 1800,1284.7 1804,1284.8 1808,1285.0 1812,1285.1 1816,1285.2 1820,1285.4 1824,1285.5 1828,1285.7 1832,1285.8 1836,1286.0 1840,1286.1 1844,1286.3 1848,1286.4 1852,1286.6 1856,1286.8 1860,1286.9 1864,1287.1 1868,1287.3 1872,1287.4 1876,1287.6 1880,1287.8 1884,1288.0 1888,1288.2 1892,1288.4" stroke="#ff00ff"/>
<path d="M368,360.0 368.5,372.9 369,387.4 369.5,403.2 370,421.6 370.5,442.3 371,463.3 371.5,482.3 372,499.3 372.5,515.4 373,530.9 373.5,545.8 374,560.2 374.5,574.3 375,588.4 375.5,602.5 376,616.4 376.5,630.0 377,643.3 377.5,656.5 378,669.7 378.5,683.1 379,696.8 379.5,710.9 380,725.7 380.5,740.8 381,756.0 381.5,771.0 382,785.5 382.5,799.3 383,812.1 383.5,824.1 384,835.6 386,882.5 388,939.6 390,979.7 392,1006.0 394,1024.4 396,1038.8 398,1050.4 400,1059.3 402,1064.7 404,1066.7 406,1066.4 408,1063.3 410,1060.6 412,1056.7 414,1051.8 416,1046.4 418,1041.6 420,1036.8 422,1031.8 424,1026.1 426,1020.3 428,1014.4 430,1008.3 432,1002.2 434,996.0 436,989.6 438,983.2 440,976.6 442,970.0 444,963.2 446,956.4 448,949.5 450,942.5 452,935.4 454,928.2 456,920.9 458,913.5 460,906.1 462,898.6 464,891.0 466,883.3 468,875.6 470,867.8 472,859.9 474,852.0 476,844.0 478,835.9 480,827.7 482,819.5 484,811.3 486,803.0 488,794.6 490,786.2 492,777.6 494,769.1 496,760.4 498,751.7 500,742.9 502,734.1 504,725.2 506,716.2 508,707.1 510,698.0 512,688.8 514,679.6 516,670.2 518,660.8 520,651.4 522,641.9 524,632.3 526,622.7 528,613.1 530,603.4 532,593.6 534,583.9 536,574.1 538,564.2 540,554.4 542,544.6 544,534.8 546,525.1 548,515.4 550,505.7 552,496.2 554,486.7 556,477.3 558,468.0 560,458.8 562,449.7 564,440.8 566,431.9 568,423.3 570,414.8 572,406.5 574,398.4 576,390.4 578,382.7 580,375.2 582,367.9 584,360.8 586,353.8 588,347.1 590,340.6 592,334.3 594,328.3 596,322.4 598,316.7 599.999,311.3 601.999,306.1 603.999,301.1 605.998,296.4 607.998,291.8 609.997,287.5 611.996,283.5 613.994,279.6 615.992,276.0 617.99,272.6 619.986,269.4 621.982,266.3 623.976,263.5 625.969,260.9 627.96,258.3 629.949,256.0 631.936,253.7 633.919,251.5 635.9,249.3 637.876,247.2 639.849,245.1 641.817,243.0 643.78,240.9 645.739,238.9 647.692,236.8 649.64,234.8 651.583,233.1 653.522,231.5 655.456,230.1 657.387,228.8 659.315,227.6 661.241,226.4 663.166,225.2 665.093,224.0 667.022,222.9 668.954,221.8 670.892,220.8 672.837,220.0 674.789,219.3 676.751,218.8 678.723,218.5 680.706,218.4 682.7,218.3 684.706,218.5 686.723,218.8 688.751,219.2 690.789,219.8 692.837,220.5 694.892,221.4 696.954,222.4 699.022,223.4 701.093,224.7 703.166,226.0 705.241,227.4 707.315,228.9 709.387,230.5 711.456,232.3 713.522,234.1 715.583,236.0 717.64,237.9 719.692,239.9 721.739,242.0 723.78,244.2 725.817,246.6 727.849,249.0 729.876,251.5 731.9,254.1 733.919,256.9 735.936,259.7 737.949,262.6 739.96,265.7 741.969,268.8 743.976,272.0 745.982,275.3 747.986,278.7 749.99,282.2 751.992,285.8 753.994,289.5 755.996,293.2 757.997,297.0 759.998,300.9 761.998,304.9 763.999,308.9 765.999,313.0 767.999,317.1 770,321.3 772,325.6 774,329.9 776,334.3 778,338.6 780,343.1 782,347.6 784,352.1 786,356.6 788,361.2 790,365.9 792,370.7 794,375.5 796,380.4 798,385.3 800,390.2 802,395.2 804,400.3 806,405.3 808,410.4 810,415.6 812,420.7 814,425.9 816,431.2 818,436.5 820,441.8 822,447.1 824,452.5 826,457.9 828,463.3 830,468.8 832,474.3 834,479.8 836,485.3 838,490.8 840,496.4 842,501.9 844,507.5 846,513.1 848,518.7 850,524.3 852,529.9 854,535.6 856,541.2 858,546.8 860,552.4 862,558.1 864,563.7 866,569.3 868,574.9 870,580.6 872,586.2 874,591.7 876,597.3 878,602.9 880,608.4 882,614.0 884,619.5 886,625.0 888,630.5 890,635.9 892,641.3 894,646.7 896,652.1 898,657.5 900,662.8 902,668.1 904,673.3 906,678.5 908,683.7 910,688.9 912,694.0 914,699.1 916,704.1 918,709.1 920,714.1 922,719.0 924,723.9 926,728.7 928,733.6 930,738.3 932,743.1 934,747.8 936,752.5 938,757.1 940,761.7 942,766.3 944,770.8 946,775.3 948,779.8 950,784.3 952,788.7 954,793.1 956,797.5 958,801.8 960,806.1 962,810.4 964,814.7 966,819.0 968,823.2 970,827.4 972,831.6 974,835.8 976,839.9 978,844.0 980,848.2 982,852.3 984,856.3 986,860.4 988,864.5 990,868.5 992,872.5 994,876.5 996,880.5 998,884.5 1000,888.5 1002,892.5 1004,896.4 1006,900.4 1008,904.3 1010,908.3 1012,912.2 1014,916.2 1016,920.1 1018,924.0 1020,927.9 1022,931.8 1024,935.7 1026,939.5 1028,943.4 1030,947.2 1032,951.0 1034,954.7 1036,958.5 1038,962.2 1040,965.9 1042,969.6 1044,973.2 1046,976.8 1048,980.3 1050,983.8 1052,987.3 1054,990.7 1056,994.1 1058,997.5 1060,1000.8 1062,1004.0 1064,1007.2 1066,1010.3 1068,1013.4 1070,1016.4 1072,1019.4 1074,1022.3 1076,1025.2 1078,1028.0 1080,1030.7 1082,1033.4 1084,1036.0 1086,1038.6 1088,1041.1 1090,1043.6 1092,1046.1 1094,1048.5 1096,1050.8 1098,1053.2 1100,1055.5 1102,1057.7 1104,1060.0 1106,1062.2 1108,1064.4 1110,1066.5 1112,1068.7 1114,1070.8 1116,1072.9 1118,1075.0 1120,1077.1 1122,1079.1 1124,1081.2 1126,1083.3 1128,1085.3 1130,1087.4 1132,1089.4 1134,1091.5 1136,1093.5 1138,1095.5 1140,1097.5 1142,1099.5 1144,1101.5 1146,1103.5 1148,1105.5 1150,1107.4 1152,1109.4 1154,1111.3 1156,1113.2 1158,1115.1 1160,1117.0 1162,1118.9 1164,1120.8 1166,1122.6 1168,1124.4 1170,1126.3 1172,1128.1 1174,1129.9 1176,1131.6 1178,1133.4 1180,1135.1 1182,1136.9 1184,1138.6 1186,1140.3 1188,1142.0 1190,1143.6 1192,1145.3 1194,1146.9 1196,1148.5 1198,1150.1 1200,1151.7 1204,1154.8 1208,1157.8 1212,1160.8 1216,1163.7 1220,1166.5 1224,1169.2 1228,1171.9 1232,1174.5 1236,1177.0 1240,1179.5 1244,1181.9 1248,1184.2 1252,1186.5 1256,1188.7 1260,1190.9 1264,1193.0 1268,1195.1 1272,1197.1 1276,1199.1 1280,1201.0 1284,1202.9 1288,1204.7 1292,1206.5 1296,1208.3 1300,1210.0 1304,1211.7 1308,1213.3 1312,1214.9 1316,1216.5 1320,1218.1 1324,1219.6 1328,1221.1 1332,1222.6 1336,1224.0 1340,1225.4 1344,1226.8 1348,1228.2 1352,1229.5 1356,1230.8 1360,1232.1 1364,1233.4 1368,1234.6 1372,1235.8 1376,1237.0 1380,1238.2 1384,1239.4 1388,1240.5 1392,1241.6 1396,1242.7 1400,1243.7 1404,1244.8 1408,1245.8 1412,1246.8 1416,1247.7 1420,1248.7 1424,1249.6 1428,1250.5 1432,1251.4 1436,1252.3 1440,1253.2 1444,1254.0 1448,1254.8 1452,1255.6 1456,1256.4 1460,1257.2 1464,1257.9 1468,1258.7 1472,1259.4 1476,1260.1 1480,1260.8 1484,1261.4 1488,1262.1 1492,1262.7 1496,1263.3 1500,1263.9 1504,1264.5 1508,1265.1 1512,1265.7 1516,1266.2 1520,1266.8 1524,1267.3 1528,1267.8 1532,1268.3 1536,1268.8 1540,1269.3 1544,1269.7 1548,1270.2 1552,1270.6 1556,1271.1 1560,1271.5 1564,1271.9 1568,1272.3 1572,1272.7 1576,1273.1 1580,1273.5 1584,1273.8 1588,1274.2 1592,1274.5 1596,1274.9 1600,1275.2 1604,1275.5 1608,1275.8 1612,1276.2 1616,1276.5 1620,1276.7 1624,1277.0 1628,1277.3 1632,1277.6 1636,1277.8 1640,1278.1 1644,1278.3 1648,1278.6 1652,1278.8 1656,1279.1 1660,1279.3 1664,1279.5 1668,1279.7 1672,1279.9 1676,1280.1 1680,1280.3 1684,1280.5 1688,1280.7 1692,1280.9 1696,1281.1 1700,1281.3 1704,1281.4 1708,1281.6 1712,1281.8 1716,1281.9 1720,1282.1 1724,1282.2 1728,1282.4 1732,1282.6 1736,1282.7 1740,1282.8 1744,1283.0 1748,1283.1 1752,1283.3 1756,1283.4 1760,1283.5 1764,1283.7 1768,1283.8 1772,1284.0 1776,1284.1 1780,1284.2 1784,1284.4 1788,1284.5 1792,1284.6 1796,1284.7 1800,1284.9 1804,1285.0 1808,1285.1 1812,1285.3 1816,1285.4 1820,1285.6 1824,1285.7 1828,1285.8 1832,1286.0 1836,1286.1 1840,1286.3 1844,1286.4 1848,1286.6 1852,1286.7 1856,1286.9 1860,1287.0 1864,1287.2 1868,1287.3 1872,1287.5 1876,1287.7 1880,1287.9 1884,1288.0 1888,1288.2 1892,1288.4" stroke="#008000"/>
<path d="M368,376.0 368.5,387.1 369,399.7 369.5,413.7 370,430.1 370.5,448.9 371,468.3 371.5,487.0 372,504.0 372.5,520.3 373,535.9 373.5,550.9 374,565.3 374.5,579.4 375,593.4 375.5,607.4 376,621.3 376.5,634.8 377,648.1 377.5,661.4 378,674.6 378.5,688.0 379,701.6 379.5,715.6 380,730.2 380.5,745.1 381,760.1 381.5,775.0 382,789.5 382.5,803.2 383,816.1 383.5,828.3 384,839.9 386,887.4 388,942.8 390,981.6 392,1007.1 394,1025.1 396,1040.3 398,1053.2 400,1062.6 402,1067.9 404,1069.8 406,1069.5 408,1066.6 410,1063.8 412,1059.8 414,1054.6 416,1048.8 418,1043.8 420,1038.7 422,1033.5 424,1027.8 426,1022.0 428,1016.2 430,1010.2 432,1004.1 434,997.9 436,991.6 438,985.3 440,978.8 442,972.2 444,965.6 446,958.8 448,952.0 450,945.1 452,938.1 454,931.0 456,923.8 458,916.6 460,909.3 462,901.9 464,894.4 466,886.8 468,879.2 470,871.5 472,863.8 474,855.9 476,848.1 478,840.1 480,832.1 482,824.0 484,815.9 486,807.6 488,799.4 490,791.0 492,782.6 494,774.2 496,765.6 498,757.0 500,748.3 502,739.6 504,730.8 506,721.9 508,712.9 510,703.9 512,694.8 514,685.6 516,676.4 518,667.1 520,657.7 522,648.3 524,638.9 526,629.4 528,619.8 530,610.2 532,600.6 534,590.9 536,581.3 538,571.6 540,561.9 542,552.2 544,542.6 546,533.0 548,523.4 550,513.9 552,504.5 554,495.2 556,485.9 558,476.8 560,467.7 562,458.8 564,449.9 566,441.2 568,432.7 570,424.3 572,416.2 574,408.1 576,400.3 578,392.7 580,385.2 582,378.0 584,370.9 586,364.1 588,357.4 590,351.0 591.999,344.7 593.999,338.7 595.999,332.8 597.998,327.2 599.997,321.8 601.996,316.6 603.994,311.7 605.991,306.9 607.988,302.4 609.983,298.1 611.976,294.1 613.968,290.2 615.956,286.6 617.941,283.2 619.921,280.0 621.895,277.0 623.863,274.3 625.821,271.7 627.77,269.2 629.706,266.9 631.628,264.7 633.534,262.6 635.42,260.5 637.286,258.4 639.127,256.4 640.944,254.4 642.732,252.3 644.492,250.3 646.223,248.3 647.924,246.4 649.596,244.7 651.241,243.1 652.861,241.8 654.461,240.6 656.045,239.5 657.62,238.3 659.191,237.2 660.767,236.0 662.357,234.9 663.968,233.8 665.609,232.8 667.289,231.9 669.015,231.2 670.794,230.7 672.632,230.4 674.533,230.3 676.5,230.2 678.533,230.4 680.632,230.7 682.794,231.1 685.015,231.7 687.289,232.5 689.609,233.3 691.968,234.3 694.357,235.4 696.767,236.6 699.191,237.9 701.62,239.3 704.045,240.8 706.461,242.4 708.861,244.1 711.241,245.9 713.596,247.8 715.924,249.7 718.223,251.6 720.492,253.7 722.732,255.9 724.944,258.2 727.127,260.6 729.286,263.1 731.42,265.7 733.534,268.4 735.628,271.2 737.706,274.2 739.77,277.2 741.821,280.3 743.863,283.5 745.895,286.8 747.921,290.2 749.941,293.7 751.956,297.2 753.968,300.9 755.976,304.6 757.983,308.4 759.988,312.3 761.991,316.2 763.994,320.2 765.996,324.3 767.997,328.4 769.998,332.6 771.999,336.8 773.999,341.1 775.999,345.4 778,349.8 780,354.2 782,358.6 784,363.1 786,367.6 788,372.1 790,376.7 792,381.5 794,386.2 796,391.0 798,395.9 800,400.8 802,405.7 804,410.6 806,415.6 808,420.7 810,425.8 812,430.9 814,436.0 816,441.2 818,446.4 820,451.7 822,457.0 824,462.3 826,467.6 828,473.0 830,478.4 832,483.8 834,489.2 836,494.7 838,500.2 840,505.7 842,511.2 844,516.7 846,522.3 848,527.8 850,533.4 852,538.9 854,544.5 856,550.1 858,555.7 860,561.2 862,566.8 864,572.4 866,578.0 868,583.5 870,589.1 872,594.6 874,600.2 876,605.7 878,611.2 880,616.7 882,622.2 884,627.6 886,633.1 888,638.5 890,643.9 892,649.3 894,654.6 896,659.9 898,665.2 900,670.5 902,675.7 904,680.9 906,686.1 908,691.2 910,696.3 912,701.3 914,706.3 916,711.3 918,716.3 920,721.2 922,726.0 924,730.9 926,735.7 928,740.4 930,745.2 932,749.8 934,754.5 936,759.1 938,763.7 940,768.3 942,772.8 944,777.3 946,781.7 948,786.2 950,790.6 952,795.0 954,799.3 956,803.7 958,808.0 960,812.2 962,816.5 964,820.7 966,824.9 968,829.1 970,833.3 972,837.4 974,841.5 976,845.6 978,849.7 980,853.8 982,857.8 984,861.9 986,865.9 988,869.9 990,873.9 992,877.9 994,881.8 996,885.8 998,889.7 1000,893.7 1002,897.6 1004,901.5 1006,905.4 1008,909.3 1010,913.2 1012,917.1 1014,921.0 1016,924.9 1018,928.7 1020,932.6 1022,936.4 1024,940.3 1026,944.1 1028,947.8 1030,951.6 1032,955.4 1034,959.1 1036,962.8 1038,966.4 1040,970.1 1042,973.7 1044,977.3 1046,980.8 1048,984.3 1050,987.8 1052,991.2 1054,994.6 1056,997.9 1058,1001.2 1060,1004.5 1062,1007.7 1064,1010.8 1066,1013.9 1068,1016.9 1070,1019.9 1072,1022.8 1074,1025.7 1076,1028.5 1078,1031.3 1080,1034.0 1082,1036.6 1084,1039.2 1086,1041.7 1088,1044.2 1090,1046.7 1092,1049.1 1094,1051.4 1096,1053.8 1098,1056.1 1100,1058.3 1102,1060.6 1104,1062.8 1106,1064.9 1108,1067.1 1110,1069.2 1112,1071.3 1114,1073.4 1116,1075.5 1118,1077.6 1120,1079.7 1122,1081.7 1124,1083.7 1126,1085.8 1128,1087.8 1130,1089.9 1132,1091.9 1134,1093.9 1136,1095.9 1138,1097.9 1140,1099.9 1142,1101.9 1144,1103.9 1146,1105.8 1148,1107.8 1150,1109.7 1152,1111.6 1154,1113.6 1156,1115.4 1158,1117.3 1160,1119.2 1162,1121.0 1164,1122.9 1166,1124.7 1168,1126.5 1170,1128.3 1172,1130.1 1174,1131.8 1176,1133.6 1178,1135.3 1180,1137.0 1182,1138.7 1184,1140.4 1186,1142.1 1188,1143.7 1190,1145.4 1192,1147.0 1194,1148.6 1196,1150.2 1198,1151.8 1200,1153.3 1204,1156.4 1208,1159.3 1212,1162.3 1216,1165.1 1220,1167.9 1224,1170.6 1228,1173.2 1232,1175.8 1236,1178.3 1240,1180.7 1244,1183.1 1248,1185.4 1252,1187.7 1256,1189.9 1260,1192.0 1264,1194.1 1268,1196.2 1272,1198.2 1276,1200.1 1280,1202.0 1284,1203.9 1288,1205.7 1292,1207.5 1296,1209.2 1300,1210.9 1304,1212.6 1308,1214.2 1312,1215.8 1316,1217.4 1320,1218.9 1324,1220.4 1328,1221.9 1332,1223.4 1336,1224.8 1340,1226.2 1344,1227.6 1348,1228.9 1352,1230.3 1356,1231.6 1360,1232.8 1364,1234.1 1368,1235.3 1372,1236.5 1376,1237.7 1380,1238.8 1384,1240.0 1388,1241.1 1392,1242.2 1396,1243.2 1400,1244.3 1404,1245.3 1408,1246.3 1412,1247.3 1416,1248.2 1420,1249.2 1424,1250.1 1428,1251.0 1432,1251.9 1436,1252.7 1440,1253.6 1444,1254.4 1448,1255.2 1452,1256.0 1456,1256.8 1460,1257.5 1464,1258.3 1468,1259.0 1472,1259.7 1476,1260.4 1480,1261.0 1484,1261.7 1488,1262.3 1492,1263.0 1496,1263.6 1500,1264.2 1504,1264.7 1508,1265.3 1512,1265.9 1516,1266.4 1520,1266.9 1524,1267.4 1528,1268.0 1532,1268.4 1536,1268.9 1540,1269.4 1544,1269.9 1548,1270.3 1552,1270.7 1556,1271.2 1560,1271.6 1564,1272.0 1568,1272.4 1572,1272.8 1576,1273.2 1580,1273.5 1584,1273.9 1588,1274.2 1592,1274.6 1596,1274.9 1600,1275.3 1604,1275.6 1608,1275.9 1612,1276.2 1616,1276.5 1620,1276.8 1624,1277.1 1628,1277.3 1632,1277.6 1636,1277.9 1640,1278.1 1644,1278.4 1648,1278.6 1652,1278.9 1656,1279.1 1660,1279.3 1664,1279.6 1668,1279.8 1672,1280.0 1676,1280.2 1680,1280.4 1684,1280.6 1688,1280.8 1692,1281.0 1696,1281.1 1700,1281.3 1704,1281.5 1708,1281.7 1712,1281.8 1716,1282.0 1720,1282.2 1724,1282.3 1728,1282.5 1732,1282.6 1736,1282.8 1740,1282.9 1744,1283.1 1748,1283.2 1752,1283.4 1756,1283.5 1760,1283.7 1764,1283.8 1768,1283.9 1772,1284.1 1776,1284.2 1780,1284.3 1784,1284.5 1788,1284.6 1792,1284.7 1796,1284.9 1800,1285.0 1804,1285.1 1808,1285.3 1812,1285.4 1816,1285.5 1820,1285.7 1824,1285.8 1828,1285.9 1832,1286.1 1836,1286.2 1840,1286.3 1844,1286.5 1848,1286.6 1852,1286.8 1856,1286.9 1860,1287.1 1864,1287.2 1868,1287.4 1872,1287.6 1876,1287.7 1880,1287.9 1884,1288.1 1888,1288.2 1892,1288.4" stroke="#000080"/>
<path d="M368,374.0 368.5,385.4 369,398.3 369.5,412.7 370,429.4 370.5,448.6 371,468.3 371.5,487.0 372,504.0 372.5,520.3 373,535.9 373.5,550.9 374,565.3 374.5,579.4 375,593.4 375.5,607.4 376,621.3 376.5,634.8 377,648.1 377.5,661.4 378,674.6 378.5,688.0 379,701.6 379.5,715.6 380,730.2 380.5,745.1 381,760.1 381.5,775.0 382,789.5 382.5,803.2 383,816.1 383.5,828.3 384,839.9 386,887.4 388,942.8 390,981.6 392,1007.1 394,1025.1 396,1040.5 398,1054.2 400,1064.4 402,1069.9 404,1071.8 406,1071.4 408,1068.7 410,1066.0 412,1062.3 414,1057.1 416,1051.1 418,1046.1 420,1041.2 422,1036.0 424,1030.4 426,1024.7 428,1018.8 430,1012.9 432,1006.9 434,1000.8 436,994.6 438,988.4 440,982.0 442,975.6 444,969.0 446,962.4 448,955.7 450,949.0 452,942.1 454,935.2 456,928.2 458,921.1 460,914.0 462,906.7 464,899.4 466,892.1 468,884.6 470,877.1 472,869.5 474,861.9 476,854.1 478,846.4 480,838.5 482,830.6 484,822.6 486,814.6 488,806.5 490,798.3 492,790.0 494,781.7 496,773.3 498,764.9 500,756.4 502,747.8 504,739.1 506,730.3 508,721.5 510,712.6 512,703.6 514,694.6 516,685.5 518,676.3 520,667.1 522,657.9 524,648.6 526,639.2 528,629.8 530,620.4 532,610.9 534,601.5 536,592.0 538,582.5 540,573.0 542,563.6 544,554.1 546,544.7 548,535.4 550,526.1 552,516.9 554,507.8 556,498.7 558,489.8 560,481.0 562,472.3 564,463.7 566,455.3 568,447.0 570,438.9 572,430.9 574,423.1 576,415.5 578,408.1 580,400.8 582,393.7 584,386.8 586,380.1 588,373.6 590,367.3 592,361.2 594,355.3 596.001,349.6 598.001,344.1 600.001,338.8 602.002,333.7 604.002,328.8 606.003,324.2 608.005,319.8 610.007,315.6 612.009,311.6 614.013,307.9 616.018,304.3 618.024,301.0 620.032,298.0 622.042,295.1 624.055,292.5 626.071,290.0 628.092,287.7 630.117,285.6 632.149,283.6 634.187,281.7 636.232,279.8 638.286,277.9 640.349,276.1 642.423,274.2 644.507,272.4 646.603,270.4 648.711,268.6 650.83,266.8 652.962,265.1 655.104,263.7 657.255,262.5 659.416,261.4 661.582,260.4 663.752,259.4 665.924,258.3 668.093,257.2 670.257,256.1 672.413,255.0 674.556,254.0 676.685,253.1 678.794,252.4 680.882,251.9 682.947,251.6 684.987,251.4 687,251.4 688.987,251.5 690.947,251.8 692.882,252.3 694.794,252.9 696.685,253.6 698.556,254.5 700.413,255.4 702.257,256.5 704.093,257.7 705.924,259.0 707.752,260.4 709.582,261.8 711.416,263.4 713.255,265.1 715.104,266.9 716.962,268.7 718.83,270.7 720.711,272.7 722.603,274.9 724.507,277.1 726.423,279.5 728.349,281.9 730.286,284.5 732.232,287.1 734.187,289.9 736.149,292.7 738.117,295.7 740.092,298.8 742.071,302.0 744.055,305.2 746.042,308.6 748.032,312.0 750.024,315.6 752.018,319.2 754.013,322.9 756.009,326.7 758.007,330.6 760.005,334.5 762.003,338.5 764.002,342.5 766.002,346.7 768.001,350.8 770.001,355.0 772.001,359.3 774,363.6 776,368.0 778,372.3 780,376.8 782,381.2 784,385.7 786,390.2 788,394.7 790,399.3 792,403.9 794,408.5 796,413.2 798,417.9 800,422.6 802,427.4 804,432.2 806,437.1 808,442.0 810,446.9 812,451.9 814,456.9 816,462.0 818,467.1 820,472.2 822,477.4 824,482.6 826,487.8 828,493.0 830,498.3 832,503.6 834,508.9 836,514.3 838,519.6 840,525.0 842,530.4 844,535.8 846,541.3 848,546.7 850,552.2 852,557.6 854,563.1 856,568.5 858,574.0 860,579.5 862,585.0 864,590.4 866,595.9 868,601.3 870,606.8 872,612.2 874,617.7 876,623.1 878,628.5 880,633.9 882,639.2 884,644.6 886,649.9 888,655.2 890,660.5 892,665.8 894,671.0 896,676.2 898,681.4 900,686.5 902,691.6 904,696.7 906,701.7 908,706.7 910,711.7 912,716.6 914,721.5 916,726.3 918,731.2 920,735.9 922,740.7 924,745.4 926,750.1 928,754.7 930,759.3 932,763.9 934,768.5 936,773.0 938,777.5 940,781.9 942,786.3 944,790.7 946,795.1 948,799.4 950,803.7 952,808.0 954,812.3 956,816.5 958,820.7 960,824.9 962,829.0 964,833.2 966,837.3 968,841.4 970,845.4 972,849.5 974,853.5 976,857.5 978,861.5 980,865.5 982,869.5 984,873.4 986,877.3 988,881.2 990,885.1 992,889.0 994,892.9 996,896.8 998,900.6 1000,904.4 1002,908.3 1004,912.1 1006,915.9 1008,919.7 1010,923.5 1012,927.3 1014,931.1 1016,934.8 1018,938.6 1020,942.3 1022,946.1 1024,949.8 1026,953.5 1028,957.2 1030,960.9 1032,964.5 1034,968.1 1036,971.7 1038,975.3 1040,978.8 1042,982.3 1044,985.8 1046,989.2 1048,992.6 1050,996.0 1052,999.3 1054,1002.6 1056,1005.8 1058,1009.0 1060,1012.2 1062,1015.3 1064,1018.3 1066,1021.3 1068,1024.3 1070,1027.1 1072,1030.0 1074,1032.8 1076,1035.5 1078,1038.1 1080,1040.7 1082,1043.3 1084,1045.8 1086,1048.2 1088,1050.7 1090,1053.0 1092,1055.4 1094,1057.6 1096,1059.9 1098,1062.1 1100,1064.3 1102,1066.5 1104,1068.6 1106,1070.7 1108,1072.8 1110,1074.9 1112,1076.9 1114,1079.0 1116,1081.0 1118,1083.0 1120,1085.0 1122,1087.0 1124,1089.0 1126,1091.0 1128,1093.0 1130,1095.0 1132,1097.0 1134,1099.0 1136,1101.0 1138,1102.9 1140,1104.9 1142,1106.8 1144,1108.8 1146,1110.7 1148,1112.6 1150,1114.5 1152,1116.3 1154,1118.2 1156,1120.0 1158,1121.9 1160,1123.7 1162,1125.5 1164,1127.3 1166,1129.0 1168,1130.8 1170,1132.5 1172,1134.2 1174,1135.9 1176,1137.6 1178,1139.3 1180,1141.0 1182,1142.6 1184,1144.2 1186,1145.8 1188,1147.4 1190,1149.0 1192,1150.6 1194,1152.1 1196,1153.7 1198,1155.2 1200,1156.7 1204,1159.6 1208,1162.5 1212,1165.3 1216,1168.1 1220,1170.8 1224,1173.4 1228,1175.9 1232,1178.4 1236,1180.9 1240,1183.3 1244,1185.6 1248,1187.8 1252,1190.0 1256,1192.2 1260,1194.3 1264,1196.4 1268,1198.4 1272,1200.3 1276,1202.3 1280,1204.1 1284,1206.0 1288,1207.7 1292,1209.5 1296,1211.2 1300,1212.9 1304,1214.5 1308,1216.1 1312,1217.7 1316,1219.2 1320,1220.7 1324,1222.2 1328,1223.7 1332,1225.1 1336,1226.5 1340,1227.9 1344,1229.2 1348,1230.5 1352,1231.8 1356,1233.1 1360,1234.3 1364,1235.5 1368,1236.7 1372,1237.9 1376,1239.1 1380,1240.2 1384,1241.3 1388,1242.4 1392,1243.4 1396,1244.4 1400,1245.5 1404,1246.4 1408,1247.4 1412,1248.4 1416,1249.3 1420,1250.2 1424,1251.1 1428,1251.9 1432,1252.8 1436,1253.6 1440,1254.4 1444,1255.2 1448,1256.0 1452,1256.8 1456,1257.5 1460,1258.2 1464,1258.9 1468,1259.6 1472,1260.3 1476,1261.0 1480,1261.6 1484,1262.2 1488,1262.8 1492,1263.4 1496,1264.0 1500,1264.6 1504,1265.2 1508,1265.7 1512,1266.2 1516,1266.8 1520,1267.3 1524,1267.8 1528,1268.2 1532,1268.7 1536,1269.2 1540,1269.6 1544,1270.1 1548,1270.5 1552,1270.9 1556,1271.3 1560,1271.8 1564,1272.2 1568,1272.5 1572,1272.9 1576,1273.3 1580,1273.7 1584,1274.0 1588,1274.4 1592,1274.7 1596,1275.0 1600,1275.4 1604,1275.7 1608,1276.0 1612,1276.3 1616,1276.6 1620,1276.9 1624,1277.2 1628,1277.4 1632,1277.7 1636,1278.0 1640,1278.2 1644,1278.5 1648,1278.7 1652,1279.0 1656,1279.2 1660,1279.4 1664,1279.7 1668,1279.9 1672,1280.1 1676,1280.3 1680,1280.5 1684,1280.7 1688,1280.9 1692,1281.1 1696,1281.3 1700,1281.5 1704,1281.7 1708,1281.8 1712,1282.0 1716,1282.2 1720,1282.3 1724,1282.5 1728,1282.7 1732,1282.8 1736,1283.0 1740,1283.1 1744,1283.3 1748,1283.4 1752,1283.6 1756,1283.7 1760,1283.9 1764,1284.0 1768,1284.1 1772,1284.3 1776,1284.4 1780,1284.6 1784,1284.7 1788,1284.8 1792,1285.0 1796,1285.1 1800,1285.2 1804,1285.3 1808,1285.5 1812,1285.6 1816,1285.7 1820,1285.9 1824,1286.0 1828,1286.1 1832,1286.3 1836,1286.4 1840,1286.5 1844,1286.7 1848,1286.8 1852,1286.9 1856,1287.1 1860,1287.2 1864,1287.4 1868,1287.5 1872,1287.7 1876,1287.8 1880,1288.0 1884,1288.1 1888,1288.3 1892,1288.4" stroke="#8800ff"/>
<path d="M368,372.0 368.5,383.3 369,396.2 369.5,410.4 370,427.2 370.5,446.3 371,465.8 371.5,484.7 372,501.6 372.5,517.8 373,533.4 373.5,548.3 374,562.7 374.5,576.9 375,590.9 375.5,604.9 376,618.8 376.5,632.4 377,645.7 377.5,658.9 378,672.2 378.5,685.5 379,699.2 379.5,713.3 380,728.0 380.5,743.0 381,758.1 381.5,773.0 382,787.5 382.5,801.3 383,814.1 383.5,826.2 384,837.8 386,884.9 388,941.2 390,980.6 392,1006.5 394,1024.8 396,1040.1 398,1054.7 400,1066.1 402,1072.0 404,1073.9 406,1073.5 408,1070.9 410,1068.2 412,1064.6 414,1059.2 416,1052.9 418,1047.9 420,1042.9 422,1037.7 424,1032.1 426,1026.4 428,1020.6 430,1014.7 432,1008.8 434,1002.7 436,996.6 438,990.4 440,984.1 442,977.8 444,971.3 446,964.8 448,958.2 450,951.6 452,944.8 454,938.0 456,931.1 458,924.1 460,917.1 462,910.0 464,902.8 466,895.5 468,888.2 470,880.8 472,873.3 474,865.8 476,858.2 478,850.5 480,842.8 482,835.0 484,827.1 486,819.2 488,811.2 490,803.1 492,795.0 494,786.8 496,778.5 498,770.1 500,761.7 502,753.2 504,744.6 506,735.9 508,727.2 510,718.4 512,709.5 514,700.6 516,691.6 518,682.5 520,673.4 522,664.2 524,655.0 526,645.7 528,636.5 530,627.1 532,617.8 534,608.5 536,599.1 538,589.7 540,580.4 542,571.1 544,561.8 546,552.5 548,543.3 550,534.2 552,525.1 554,516.1 556,507.2 558,498.4 560,489.8 562,481.3 564,473.0 566,464.8 568,456.8 570,448.9 572,441.2 574,433.6 576,426.3 578,419.0 580,412.0 582,405.1 584,398.4 586,391.9 588,385.6 590,379.5 592,373.6 594,367.8 596.001,362.3 598.001,357.0 600.001,351.8 602.002,346.9 604.003,342.2 606.004,337.7 608.006,333.4 610.008,329.4 612.011,325.6 614.015,322.0 616.021,318.6 618.028,315.5 620.037,312.5 622.049,309.9 624.064,307.4 626.083,305.2 628.107,303.1 630.137,301.2 632.173,299.4 634.218,297.7 636.271,296.1 638.333,294.5 640.407,292.9 642.493,291.2 644.592,289.6 646.704,287.8 648.829,286.2 650.969,284.6 653.122,283.0 655.288,281.7 657.465,280.5 659.651,279.6 661.846,278.7 664.044,277.8 666.244,276.8 668.442,275.7 670.634,274.6 672.815,273.5 674.983,272.5 677.132,271.6 679.26,270.9 681.363,270.3 683.438,270.0 685.484,269.9 687.5,269.8 689.484,270.0 691.438,270.3 693.363,270.8 695.26,271.3 697.132,272.1 698.983,272.9 700.815,273.9 702.634,274.9 704.442,276.1 706.244,277.4 708.044,278.7 709.846,280.2 711.651,281.7 713.465,283.4 715.288,285.1 717.122,286.9 718.969,288.6 720.829,290.5 722.704,292.4 724.592,294.5 726.493,296.6 728.407,298.9 730.333,301.2 732.271,303.7 734.218,306.2 736.173,308.9 738.137,311.7 740.107,314.6 742.083,317.5 744.064,320.6 746.049,323.8 748.037,327.1 750.028,330.5 752.021,333.9 754.015,337.4 756.011,341.0 758.008,344.7 760.006,348.5 762.004,352.3 764.003,356.2 766.002,360.1 768.001,364.1 770.001,368.1 772.001,372.2 774,376.3 776,380.5 778,384.6 780,388.9 782,393.1 784,397.4 786,401.7 788,406.0 790,410.4 792,414.9 794,419.5 796,424.1 798,428.8 800,433.4 802,438.2 804,442.9 806,447.7 808,452.5 810,457.4 812,462.3 814,467.3 816,472.3 818,477.3 820,482.3 822,487.4 824,492.6 826,497.7 828,502.9 830,508.1 832,513.4 834,518.7 836,523.9 838,529.3 840,534.6 842,539.9 844,545.3 846,550.7 848,556.0 850,561.4 852,566.8 854,572.3 856,577.7 858,583.1 860,588.5 862,593.9 864,599.3 866,604.7 868,610.1 870,615.5 872,620.9 874,626.3 876,631.7 878,637.0 880,642.3 882,647.7 884,653.0 886,658.2 888,663.5 890,668.7 892,673.9 894,679.1 896,684.2 898,689.3 900,694.4 902,699.4 904,704.4 906,709.4 908,714.3 910,719.3 912,724.1 914,728.9 916,733.7 918,738.5 920,743.2 922,747.9 924,752.6 926,757.2 928,761.8 930,766.3 932,770.9 934,775.4 936,779.8 938,784.2 940,788.6 942,793.0 944,797.4 946,801.7 948,805.9 950,810.2 952,814.4 954,818.6 956,822.8 958,827.0 960,831.1 962,835.2 964,839.3 966,843.4 968,847.4 970,851.4 972,855.5 974,859.4 976,863.4 978,867.4 980,871.3 982,875.2 984,879.1 986,883.0 988,886.8 990,890.7 992,894.5 994,898.4 996,902.2 998,906.0 1000,909.8 1002,913.5 1004,917.3 1006,921.1 1008,924.8 1010,928.6 1012,932.3 1014,936.0 1016,939.8 1018,943.5 1020,947.2 1022,950.8 1024,954.5 1026,958.2 1028,961.8 1030,965.4 1032,969.0 1034,972.6 1036,976.1 1038,979.6 1040,983.1 1042,986.6 1044,990.0 1046,993.4 1048,996.7 1050,1000.0 1052,1003.3 1054,1006.5 1056,1009.7 1058,1012.9 1060,1016.0 1062,1019.0 1064,1022.0 1066,1025.0 1068,1027.9 1070,1030.7 1072,1033.5 1074,1036.2 1076,1038.9 1078,1041.5 1080,1044.1 1082,1046.6 1084,1049.0 1086,1051.5 1088,1053.8 1090,1056.2 1092,1058.4 1094,1060.7 1096,1062.9 1098,1065.1 1100,1067.3 1102,1069.4 1104,1071.5 1106,1073.6 1108,1075.6 1110,1077.7 1112,1079.7 1114,1081.7 1116,1083.7 1118,1085.7 1120,1087.7 1122,1089.7 1124,1091.6 1126,1093.6 1128,1095.6 1130,1097.6 1132,1099.5 1134,1101.5 1136,1103.5 1138,1105.4 1140,1107.3 1142,1109.3 1144,1111.2 1146,1113.1 1148,1114.9 1150,1116.8 1152,1118.7 1154,1120.5 1156,1122.3 1158,1124.1 1160,1125.9 1162,1127.7 1164,1129.4 1166,1131.2 1168,1132.9 1170,1134.6 1172,1136.3 1174,1138.0 1176,1139.6 1178,1141.3 1180,1142.9 1182,1144.5 1184,1146.1 1186,1147.7 1188,1149.3 1190,1150.8 1192,1152.4 1194,1153.9 1196,1155.4 1198,1156.9 1200,1158.3 1204,1161.2 1208,1164.1 1212,1166.8 1216,1169.6 1220,1172.2 1224,1174.8 1228,1177.3 1232,1179.8 1236,1182.2 1240,1184.5 1244,1186.8 1248,1189.0 1252,1191.2 1256,1193.4 1260,1195.4 1264,1197.5 1268,1199.5 1272,1201.4 1276,1203.3 1280,1205.2 1284,1207.0 1288,1208.7 1292,1210.5 1296,1212.2 1300,1213.8 1304,1215.5 1308,1217.0 1312,1218.6 1316,1220.1 1320,1221.6 1324,1223.1 1328,1224.5 1332,1225.9 1336,1227.3 1340,1228.7 1344,1230.0 1348,1231.3 1352,1232.6 1356,1233.8 1360,1235.1 1364,1236.3 1368,1237.4 1372,1238.6 1376,1239.7 1380,1240.8 1384,1241.9 1388,1243.0 1392,1244.0 1396,1245.0 1400,1246.0 1404,1247.0 1408,1248.0 1412,1248.9 1416,1249.8 1420,1250.7 1424,1251.6 1428,1252.4 1432,1253.2 1436,1254.1 1440,1254.9 1444,1255.6 1448,1256.4 1452,1257.1 1456,1257.9 1460,1258.6 1464,1259.3 1468,1259.9 1472,1260.6 1476,1261.3 1480,1261.9 1484,1262.5 1488,1263.1 1492,1263.7 1496,1264.3 1500,1264.8 1504,1265.4 1508,1265.9 1512,1266.4 1516,1266.9 1520,1267.4 1524,1267.9 1528,1268.4 1532,1268.9 1536,1269.3 1540,1269.8 1544,1270.2 1548,1270.6 1552,1271.0 1556,1271.4 1560,1271.8 1564,1272.2 1568,1272.6 1572,1273.0 1576,1273.4 1580,1273.7 1584,1274.1 1588,1274.4 1592,1274.7 1596,1275.1 1600,1275.4 1604,1275.7 1608,1276.0 1612,1276.3 1616,1276.6 1620,1276.9 1624,1277.2 1628,1277.5 1632,1277.7 1636,1278.0 1640,1278.3 1644,1278.5 1648,1278.8 1652,1279.0 1656,1279.2 1660,1279.5 1664,1279.7 1668,1279.9 1672,1280.1 1676,1280.4 1680,1280.6 1684,1280.8 1688,1281.0 1692,1281.2 1696,1281.4 1700,1281.5 1704,1281.7 1708,1281.9 1712,1282.1 1716,1282.3 1720,1282.4 1724,1282.6 1728,1282.8 1732,1282.9 1736,1283.1 1740,1283.2 1744,1283.4 1748,1283.5 1752,1283.7 1756,1283.8 1760,1284.0 1764,1284.1 1768,1284.3 1772,1284.4 1776,1284.5 1780,1284.7 1784,1284.8 1788,1284.9 1792,1285.1 1796,1285.2 1800,1285.3 1804,1285.5 1808,1285.6 1812,1285.7 1816,1285.8 1820,1286.0 1824,1286.1 1828,1286.2 1832,1286.4 1836,1286.5 1840,1286.6 1844,1286.8 1848,1286.9 1852,1287.0 1856,1287.2 1860,1287.3 1864,1287.4 1868,1287.6 1872,1287.7 1876,1287.8 1880,1288.0 1884,1288.1 1888,1288.3 1892,1288.4" stroke="#8f0085"/>
<path d="M368,450.0 368.5,451.6 369,454.7 369.5,459.2 370,465.8 370.5,475.1 371,485.8 371.5,503.4 372,520.4 372.5,537.1 373,553.3 373.5,568.7 374,583.0 374.5,597.1 375,610.9 375.5,624.7 376,638.4 376.5,651.8 377,665.1 377.5,678.4 378,691.6 378.5,704.9 379,718.4 379.5,732.0 380,746.0 380.5,760.3 381,774.7 381.5,789.0 382,803.2 382.5,816.9 383,830.1 383.5,842.7 384,855.0 386,904.6 388,953.9 390,988.2 392,1010.9 394,1027.7 396,1045.0 398,1060.4 400,1069.7 402,1074.1 404,1075.9 406,1075.6 408,1073.2 410,1070.5 412,1066.9 414,1061.3 416,1054.8 418,1049.7 420,1044.7 422,1039.5 424,1033.9 426,1028.2 428,1022.4 430,1016.6 432,1010.7 434,1004.7 436,998.6 438,992.5 440,986.3 442,980.0 444,973.7 446,967.2 448,960.7 450,954.2 452,947.5 454,940.8 456,934.0 458,927.2 460,920.2 462,913.2 464,906.2 466,899.0 468,891.8 470,884.5 472,877.2 474,869.8 476,862.3 478,854.7 480,847.1 482,839.4 484,831.7 486,823.9 488,816.0 490,808.0 492,800.0 494,791.8 496,783.7 498,775.4 500,767.1 502,758.7 504,750.2 506,741.6 508,733.0 510,724.3 512,715.5 514,706.6 516,697.7 518,688.7 520,679.7 522,670.6 524,661.5 526,652.4 528,643.2 530,634.0 532,624.8 534,615.5 536,606.3 538,597.1 540,587.9 542,578.7 544,569.5 546,560.4 548,551.4 550,542.4 552,533.5 554,524.6 556,515.9 558,507.2 560,498.7 562,490.3 564,482.1 566,474.0 568,466.0 570,458.2 572,450.5 574,443.0 576,435.7 578,428.5 580,421.5 582,414.6 584,407.9 586,401.4 588,395.1 590,389.0 592,383.0 594,377.3 596,371.7 598,366.3 600,361.2 602.001,356.2 604.001,351.5 606.001,346.9 608.002,342.6 610.002,338.5 612.003,334.7 614.004,331.0 616.006,327.6 618.008,324.4 620.011,321.5 622.014,318.8 624.018,316.3 626.024,314.0 628.031,312.0 630.039,310.1 632.05,308.3 634.062,306.6 636.077,305.0 638.095,303.4 640.116,301.8 642.141,300.1 644.169,298.4 646.201,296.7 648.237,295.0 650.277,293.3 652.321,291.8 654.368,290.5 656.418,289.4 658.472,288.6 660.527,287.7 662.584,286.8 664.641,285.9 666.698,284.8 668.752,283.7 670.804,282.6 672.852,281.6 674.895,280.7 676.931,280.0 678.961,279.4 680.982,279.1 682.996,278.9 685,278.9 686.996,279.1 688.982,279.4 690.961,279.8 692.931,280.4 694.895,281.1 696.852,282.0 698.804,282.9 700.752,284.0 702.698,285.2 704.641,286.4 706.584,287.8 708.527,289.2 710.472,290.8 712.418,292.4 714.368,294.1 716.321,295.9 718.277,297.8 720.237,299.7 722.201,301.8 724.169,303.9 726.141,306.2 728.116,308.6 730.095,311.0 732.077,313.6 734.062,316.3 736.05,319.0 738.039,321.9 740.031,324.9 742.024,328.0 744.018,331.2 746.014,334.5 748.011,337.9 750.008,341.4 752.006,344.9 754.004,348.6 756.003,352.3 758.002,356.1 760.002,359.9 762.001,363.8 764.001,367.8 766.001,371.8 768,375.9 770,380.0 772,384.2 774,388.4 776,392.7 778,396.9 780,401.2 782,405.5 784,409.9 786,414.3 788,418.6 790,423.1 792,427.5 794,432.0 796,436.6 798,441.1 800,445.7 802,450.4 804,455.1 806,459.8 808,464.5 810,469.3 812,474.1 814,479.0 816,483.9 818,488.9 820,493.9 822,498.9 824,504.0 826,509.1 828,514.2 830,519.4 832,524.5 834,529.7 836,535.0 838,540.2 840,545.5 842,550.8 844,556.0 846,561.4 848,566.7 850,572.0 852,577.4 854,582.7 856,588.1 858,593.4 860,598.8 862,604.1 864,609.5 866,614.8 868,620.2 870,625.5 872,630.8 874,636.1 876,641.4 878,646.7 880,652.0 882,657.3 884,662.5 886,667.7 888,672.9 890,678.0 892,683.2 894,688.3 896,693.4 898,698.4 900,703.4 902,708.4 904,713.3 906,718.2 908,723.1 910,727.9 912,732.7 914,737.5 916,742.2 918,746.9 920,751.5 922,756.2 924,760.8 926,765.3 928,769.8 930,774.3 932,778.8 934,783.2 936,787.6 938,792.0 940,796.3 942,800.6 944,804.9 946,809.2 948,813.4 950,817.6 952,821.8 954,825.9 956,830.0 958,834.1 960,838.2 962,842.3 964,846.3 966,850.3 968,854.3 970,858.3 972,862.2 974,866.2 976,870.1 978,874.0 980,877.9 982,881.7 984,885.6 986,889.4 988,893.2 990,897.0 992,900.8 994,904.6 996,908.3 998,912.1 1000,915.8 1002,919.5 1004,923.3 1006,927.0 1008,930.7 1010,934.4 1012,938.0 1014,941.7 1016,945.4 1018,949.0 1020,952.7 1022,956.3 1024,959.9 1026,963.5 1028,967.1 1030,970.6 1032,974.1 1034,977.6 1036,981.1 1038,984.6 1040,988.0 1042,991.4 1044,994.8 1046,998.1 1048,1001.4 1050,1004.6 1052,1007.8 1054,1011.0 1056,1014.2 1058,1017.2 1060,1020.3 1062,1023.3 1064,1026.2 1066,1029.1 1068,1032.0 1070,1034.8 1072,1037.5 1074,1040.2 1076,1042.8 1078,1045.4 1080,1047.9 1082,1050.3 1084,1052.8 1086,1055.1 1088,1057.5 1090,1059.7 1092,1062.0 1094,1064.2 1096,1066.4 1098,1068.5 1100,1070.6 1102,1072.7 1104,1074.8 1106,1076.8 1108,1078.8 1110,1080.8 1112,1082.8 1114,1084.8 1116,1086.8 1118,1088.7 1120,1090.7 1122,1092.7 1124,1094.6 1126,1096.6 1128,1098.5 1130,1100.5 1132,1102.4 1134,1104.4 1136,1106.3 1138,1108.2 1140,1110.1 1142,1112.0 1144,1113.9 1146,1115.8 1148,1117.6 1150,1119.5 1152,1121.3 1154,1123.1 1156,1124.9 1158,1126.7 1160,1128.4 1162,1130.2 1164,1131.9 1166,1133.6 1168,1135.3 1170,1137.0 1172,1138.6 1174,1140.3 1176,1141.9 1178,1143.5 1180,1145.1 1182,1146.7 1184,1148.3 1186,1149.8 1188,1151.3 1190,1152.9 1192,1154.4 1194,1155.9 1196,1157.3 1198,1158.8 1200,1160.2 1204,1163.1 1208,1165.9 1212,1168.6 1216,1171.2 1220,1173.8 1224,1176.4 1228,1178.8 1232,1181.3 1236,1183.6 1240,1185.9 1244,1188.2 1248,1190.4 1252,1192.6 1256,1194.7 1260,1196.7 1264,1198.7 1268,1200.7 1272,1202.6 1276,1204.5 1280,1206.3 1284,1208.1 1288,1209.9 1292,1211.6 1296,1213.3 1300,1214.9 1304,1216.5 1308,1218.1 1312,1219.6 1316,1221.1 1320,1222.6 1324,1224.1 1328,1225.5 1332,1226.9 1336,1228.3 1340,1229.6 1344,1230.9 1348,1232.2 1352,1233.5 1356,1234.7 1360,1235.9 1364,1237.1 1368,1238.2 1372,1239.4 1376,1240.5 1380,1241.6 1384,1242.6 1388,1243.7 1392,1244.7 1396,1245.7 1400,1246.7 1404,1247.6 1408,1248.6 1412,1249.5 1416,1250.4 1420,1251.3 1424,1252.1 1428,1252.9 1432,1253.8 1436,1254.6 1440,1255.3 1444,1256.1 1448,1256.8 1452,1257.6 1456,1258.3 1460,1259.0 1464,1259.6 1468,1260.3 1472,1261.0 1476,1261.6 1480,1262.2 1484,1262.8 1488,1263.4 1492,1264.0 1496,1264.5 1500,1265.1 1504,1265.6 1508,1266.1 1512,1266.6 1516,1267.1 1520,1267.6 1524,1268.1 1528,1268.6 1532,1269.0 1536,1269.5 1540,1269.9 1544,1270.3 1548,1270.7 1552,1271.1 1556,1271.5 1560,1271.9 1564,1272.3 1568,1272.7 1572,1273.1 1576,1273.4 1580,1273.8 1584,1274.1 1588,1274.5 1592,1274.8 1596,1275.1 1600,1275.5 1604,1275.8 1608,1276.1 1612,1276.4 1616,1276.7 1620,1277.0 1624,1277.2 1628,1277.5 1632,1277.8 1636,1278.1 1640,1278.3 1644,1278.6 1648,1278.8 1652,1279.1 1656,1279.3 1660,1279.5 1664,1279.8 1668,1280.0 1672,1280.2 1676,1280.4 1680,1280.6 1684,1280.8 1688,1281.0 1692,1281.2 1696,1281.4 1700,1281.6 1704,1281.8 1708,1282.0 1712,1282.2 1716,1282.4 1720,1282.5 1724,1282.7 1728,1282.9 1732,1283.0 1736,1283.2 1740,1283.3 1744,1283.5 1748,1283.7 1752,1283.8 1756,1283.9 1760,1284.1 1764,1284.2 1768,1284.4 1772,1284.5 1776,1284.7 1780,1284.8 1784,1284.9 1788,1285.1 1792,1285.2 1796,1285.3 1800,1285.5 1804,1285.6 1808,1285.7 1812,1285.8 1816,1286.0 1820,1286.1 1824,1286.2 1828,1286.4 1832,1286.5 1836,1286.6 1840,1286.7 1844,1286.9 1848,1287.0 1852,1287.1 1856,1287.2 1860,1287.4 1864,1287.5 1868,1287.6 1872,1287.8 1876,1287.9 1880,1288.0 1884,1288.2 1888,1288.3 1892,1288.4" stroke="#900000"/>
<path d="M368,400.0 368.5,409.1 369,419.7 369.5,431.8 370,446.0 370.5,462.8 371,480.8 371.5,498.7 372,515.7 372.5,532.3 373,548.3 373.5,563.6 374,578.0 374.5,592.0 375,605.9 375.5,619.8 376,633.5 376.5,646.9 377,660.2 377.5,673.5 378,686.8 378.5,700.1 379,713.6 379.5,727.3 380,741.5 380.5,756.0 381,770.5 381.5,785.0 382,799.3 382.5,813.0 383,826.1 383.5,838.6 384,850.7 386,899.7 388,950.7 390,986.3 392,1009.8 394,1027.0 396,1044.1 398,1060.8 400,1072.0 402,1077.2 404,1078.9 406,1078.6 408,1076.4 410,1073.7 412,1070.2 414,1064.5 416,1057.6 418,1052.4 420,1047.3 422,1042.0 424,1036.4 426,1030.8 428,1025.1 430,1019.3 432,1013.5 434,1007.6 436,1001.6 438,995.6 440,989.5 442,983.4 444,977.1 446,970.8 448,964.5 450,958.1 452,951.6 454,945.0 456,938.4 458,931.7 460,924.9 462,918.1 464,911.2 466,904.2 468,897.2 470,890.1 472,882.9 474,875.7 476,868.4 478,861.0 480,853.6 482,846.0 484,838.5 486,830.8 488,823.1 490,815.3 492,807.4 494,799.4 496,791.4 498,783.3 500,775.1 502,766.8 504,758.5 506,750.1 508,741.6 510,733.0 512,724.4 514,715.6 516,706.8 518,698.0 520,689.1 522,680.2 524,671.2 526,662.2 528,653.2 530,644.2 532,635.1 534,626.1 536,617.0 538,608.0 540,599.0 542,590.0 544,581.1 546,572.2 548,563.3 550,554.6 552,545.9 554,537.2 556,528.7 558,520.2 560,511.9 562,503.7 564,495.6 566,487.6 568,479.7 570,471.9 572,464.3 574,456.9 576,449.5 578,442.4 580,435.4 582,428.5 584,421.8 586,415.3 588,408.9 590,402.8 592,396.8 594,390.9 596,385.3 598,379.9 600,374.7 602,369.6 604,364.8 606,360.2 608,355.8 610,351.6 612,347.6 614,343.9 616,340.4 618,337.2 620,334.1 622,331.4 624,328.8 626,326.5 628,324.4 630,322.5 632,320.7 634,319.0 636,317.3 638,315.7 640,314.0 642,312.3 644,310.6 646,308.8 648,307.0 650,305.3 652,303.8 654,302.6 656,301.5 658,300.8 660,300.0 662,299.2 664,298.3 666,297.2 668,296.1 670,295.0 672,294.0 674,293.1 676,292.4 678,291.8 680,291.5 682,291.4 684,291.3 686,291.5 688,291.8 690,292.2 692,292.8 694,293.5 696,294.4 698,295.3 700,296.4 702,297.6 704,298.8 706,300.1 708,301.6 710,303.1 712,304.7 714,306.4 716,308.2 718,310.1 720,312.1 722,314.2 724,316.4 726,318.7 728,321.1 730,323.6 732,326.2 734,328.9 736,331.7 738,334.7 740,337.7 742,340.8 744,344.1 746,347.4 748,350.8 750,354.4 752,358.0 754,361.6 756,365.4 758,369.2 760,373.1 762,377.1 764,381.1 766,385.2 768,389.3 770,393.4 772,397.6 774,401.9 776,406.1 778,410.4 780,414.7 782,419.1 784,423.4 786,427.8 788,432.2 790,436.6 792,441.0 794,445.4 796,449.9 798,454.3 800,458.9 802,463.4 804,468.0 806,472.6 808,477.3 810,482.0 812,486.8 814,491.6 816,496.4 818,501.3 820,506.2 822,511.2 824,516.2 826,521.2 828,526.2 830,531.3 832,536.4 834,541.5 836,546.7 838,551.9 840,557.1 842,562.3 844,567.5 846,572.8 848,578.0 850,583.3 852,588.6 854,593.8 856,599.1 858,604.4 860,609.7 862,615.0 864,620.3 866,625.6 868,630.9 870,636.1 872,641.4 874,646.6 876,651.9 878,657.1 880,662.3 882,667.5 884,672.7 886,677.8 888,682.9 890,688.0 892,693.1 894,698.1 896,703.1 898,708.1 900,713.0 902,717.9 904,722.8 906,727.6 908,732.4 910,737.1 912,741.9 914,746.5 916,751.2 918,755.8 920,760.4 922,764.9 924,769.5 926,774.0 928,778.4 930,782.8 932,787.2 934,791.6 936,795.9 938,800.2 940,804.5 942,808.7 944,813.0 946,817.2 948,821.3 950,825.5 952,829.6 954,833.7 956,837.7 958,841.8 960,845.8 962,849.8 964,853.8 966,857.7 968,861.7 970,865.6 972,869.5 974,873.4 976,877.2 978,881.1 980,884.9 982,888.7 984,892.5 986,896.3 988,900.0 990,903.8 992,907.5 994,911.2 996,914.9 998,918.6 1000,922.3 1002,925.9 1004,929.6 1006,933.3 1008,936.9 1010,940.5 1012,944.1 1014,947.7 1016,951.3 1018,954.9 1020,958.5 1022,962.1 1024,965.6 1026,969.1 1028,972.7 1030,976.1 1032,979.6 1034,983.1 1036,986.5 1038,989.9 1040,993.2 1042,996.6 1044,999.9 1046,1003.1 1048,1006.4 1050,1009.5 1052,1012.7 1054,1015.8 1056,1018.9 1058,1021.9 1060,1024.9 1062,1027.8 1064,1030.7 1066,1033.6 1068,1036.4 1070,1039.1 1072,1041.8 1074,1044.4 1076,1047.0 1078,1049.5 1080,1051.9 1082,1054.4 1084,1056.7 1086,1059.0 1088,1061.3 1090,1063.5 1092,1065.7 1094,1067.9 1096,1070.0 1098,1072.1 1100,1074.2 1102,1076.2 1104,1078.3 1106,1080.3 1108,1082.3 1110,1084.2 1112,1086.2 1114,1088.1 1116,1090.1 1118,1092.0 1120,1093.9 1122,1095.8 1124,1097.8 1126,1099.7 1128,1101.6 1130,1103.6 1132,1105.5 1134,1107.4 1136,1109.3 1138,1111.2 1140,1113.1 1142,1115.0 1144,1116.8 1146,1118.7 1148,1120.5 1150,1122.3 1152,1124.1 1154,1125.9 1156,1127.6 1158,1129.4 1160,1131.1 1162,1132.8 1164,1134.5 1166,1136.2 1168,1137.8 1170,1139.5 1172,1141.1 1174,1142.7 1176,1144.3 1178,1145.9 1180,1147.5 1182,1149.0 1184,1150.5 1186,1152.1 1188,1153.6 1190,1155.1 1192,1156.5 1194,1158.0 1196,1159.4 1198,1160.8 1200,1162.3 1204,1165.0 1208,1167.8 1212,1170.4 1216,1173.0 1220,1175.6 1224,1178.1 1228,1180.5 1232,1182.9 1236,1185.2 1240,1187.5 1244,1189.7 1248,1191.9 1252,1194.0 1256,1196.1 1260,1198.1 1264,1200.1 1268,1202.0 1272,1203.9 1276,1205.8 1280,1207.6 1284,1209.4 1288,1211.1 1292,1212.8 1296,1214.5 1300,1216.1 1304,1217.7 1308,1219.2 1312,1220.8 1316,1222.2 1320,1223.7 1324,1225.1 1328,1226.5 1332,1227.9 1336,1229.3 1340,1230.6 1344,1231.9 1348,1233.1 1352,1234.4 1356,1235.6 1360,1236.8 1364,1238.0 1368,1239.1 1372,1240.2 1376,1241.3 1380,1242.4 1384,1243.4 1388,1244.4 1392,1245.4 1396,1246.4 1400,1247.4 1404,1248.3 1408,1249.2 1412,1250.1 1416,1251.0 1420,1251.9 1424,1252.7 1428,1253.5 1432,1254.3 1436,1255.1 1440,1255.8 1444,1256.6 1448,1257.3 1452,1258.0 1456,1258.7 1460,1259.4 1464,1260.1 1468,1260.7 1472,1261.3 1476,1261.9 1480,1262.5 1484,1263.1 1488,1263.7 1492,1264.3 1496,1264.8 1500,1265.3 1504,1265.9 1508,1266.4 1512,1266.9 1516,1267.3 1520,1267.8 1524,1268.3 1528,1268.7 1532,1269.2 1536,1269.6 1540,1270.0 1544,1270.5 1548,1270.9 1552,1271.3 1556,1271.7 1560,1272.0 1564,1272.4 1568,1272.8 1572,1273.2 1576,1273.5 1580,1273.9 1584,1274.2 1588,1274.5 1592,1274.9 1596,1275.2 1600,1275.5 1604,1275.8 1608,1276.1 1612,1276.4 1616,1276.7 1620,1277.0 1624,1277.3 1628,1277.6 1632,1277.8 1636,1278.1 1640,1278.4 1644,1278.6 1648,1278.9 1652,1279.1 1656,1279.4 1660,1279.6 1664,1279.8 1668,1280.1 1672,1280.3 1676,1280.5 1680,1280.7 1684,1280.9 1688,1281.1 1692,1281.3 1696,1281.5 1700,1281.7 1704,1281.9 1708,1282.1 1712,1282.3 1716,1282.5 1720,1282.6 1724,1282.8 1728,1283.0 1732,1283.1 1736,1283.3 1740,1283.5 1744,1283.6 1748,1283.8 1752,1283.9 1756,1284.1 1760,1284.2 1764,1284.4 1768,1284.5 1772,1284.7 1776,1284.8 1780,1284.9 1784,1285.1 1788,1285.2 1792,1285.3 1796,1285.5 1800,1285.6 1804,1285.7 1808,1285.9 1812,1286.0 1816,1286.1 1820,1286.2 1824,1286.4 1828,1286.5 1832,1286.6 1836,1286.7 1840,1286.8 1844,1287.0 1848,1287.1 1852,1287.2 1856,1287.3 1860,1287.4 1864,1287.6 1868,1287.7 1872,1287.8 1876,1287.9 1880,1288.1 1884,1288.2 1888,1288.3 1892,1288.4" stroke="#808000"/>
<path d="M366.8,461.2 367.3,464.9 367.8,470.3 368.3,477.1 368.8,485.3 369.3,496.7 369.8,510.8 370.3,526.8 370.8,543.8 371.3,561.3 371.8,578.3 372.3,594.2 372.8,608.5 373.3,622.4 373.8,636.0 374.3,649.5 374.8,662.8 375.3,676.1 375.8,689.4 376.3,702.7 376.8,716.0 377.3,729.2 377.8,742.4 378.3,755.5 378.8,768.7 379.3,782.0 379.8,795.4 380.3,809.1 380.8,822.8 381.3,836.5 381.8,850.0 382.3,863.4 382.8,876.6 384.8,929.3 386.8,969.8 388.8,997.9 390.8,1016.5 392.8,1031.5 394.8,1051.6 396.8,1070.1 398.9,1078.6 401.1,1082.0 403.6,1084.0 406.6,1083.5 408.9,1081.3 411.0,1078.4 413.1,1074.8 415.2,1068.5 417.1,1061.1 419.1,1055.7 421.1,1050.5 423.1,1045.0 425.1,1039.4 427.1,1033.8 429.1,1028.2 431.1,1022.5 433.1,1016.7 435.1,1010.9 437.1,1005.0 439.1,999.1 441.1,993.1 443.1,987.1 445.1,981.0 447.1,974.8 449.1,968.6 451.1,962.3 453.1,956.0 455.1,949.6 457.1,943.1 459.1,936.6 461.1,930.0 463.1,923.3 465.2,916.6 467.2,909.8 469.2,902.9 471.2,896.0 473.2,889.0 475.2,881.9 477.2,874.8 479.2,867.6 481.2,860.3 483.2,853.0 485.2,845.5 487.2,838.0 489.2,830.5 491.2,822.8 493.2,815.1 495.2,807.3 497.2,799.4 499.2,791.4 501.2,783.4 503.2,775.3 505.2,767.1 507.2,758.8 509.2,750.5 511.2,742.0 513.2,733.5 515.2,724.9 517.2,716.3 519.2,707.5 521.2,698.8 523.2,690.0 525.2,681.2 527.2,672.3 529.2,663.5 531.2,654.6 533.2,645.7 535.2,636.9 537.2,628.0 539.2,619.2 541.2,610.4 543.2,601.6 545.2,592.9 547.2,584.2 549.2,575.6 551.2,567.0 553.2,558.5 555.2,550.1 557.2,541.8 559.2,533.6 561.2,525.4 563.2,517.4 565.2,509.5 567.2,501.6 569.2,493.9 571.2,486.4 573.2,478.9 575.2,471.6 577.2,464.4 579.2,457.3 581.2,450.4 583.1,443.6 585.1,437.0 587.1,430.6 589.1,424.3 591.1,418.2 593.1,412.2 595.1,406.5 597.1,400.9 599.1,395.5 601.1,390.3 603.1,385.3 605.1,380.5 607.1,375.9 609.1,371.5 611.1,367.3 613.1,363.4 615.0,359.7 617.0,356.2 619.0,353.0 621.0,350.1 622.9,347.3 624.9,344.9 626.8,342.7 628.8,340.7 630.7,338.8 632.7,337.1 634.7,335.5 636.6,333.9 638.6,332.3 640.6,330.7 642.6,329.0 644.6,327.3 646.6,325.5 648.5,323.7 650.5,322.0 652.4,320.6 654.3,319.4 656.2,318.5 658.2,317.8 660.2,317.1 662.2,316.3 664.2,315.3 666.2,314.2 668.1,313.1 670.1,312.0 672.1,310.9 674.1,309.9 676.0,309.2 678.0,308.6 680.0,308.2 682.0,308.1 684.0,308.0 686.0,308.2 688.0,308.5 690.0,308.9 692.0,309.6 694.0,310.3 696.0,311.2 697.9,312.2 699.9,313.2 701.9,314.4 703.9,315.7 705.8,317.1 707.8,318.5 709.7,320.0 711.7,321.6 713.6,323.3 715.6,325.1 717.5,327.0 719.5,328.9 721.4,331.0 723.4,333.1 725.3,335.4 727.3,337.7 729.3,340.1 731.2,342.7 733.2,345.3 735.2,348.0 737.1,350.9 739.1,353.8 741.1,356.9 743.0,360.0 745.0,363.3 747.0,366.7 749.0,370.1 751.0,373.6 753.0,377.3 755.0,380.9 757.0,384.7 758.9,388.5 760.9,392.4 762.9,396.3 764.9,400.3 766.9,404.4 768.9,408.4 770.9,412.5 772.9,416.7 774.9,420.9 776.9,425.1 778.9,429.3 780.9,433.5 782.9,437.8 784.9,442.0 786.9,446.3 788.9,450.6 790.9,454.9 792.9,459.3 794.9,463.6 796.9,468.0 798.9,472.5 800.9,476.9 802.9,481.5 804.9,486.0 806.9,490.6 808.9,495.2 810.9,499.9 812.9,504.6 814.9,509.4 816.9,514.2 818.9,519.0 820.9,523.9 822.9,528.8 824.9,533.7 826.9,538.7 828.9,543.7 830.9,548.7 832.9,553.8 834.9,558.9 836.9,564.0 838.9,569.1 840.9,574.3 842.9,579.4 844.9,584.6 846.9,589.8 848.9,595.0 850.9,600.2 852.9,605.4 854.9,610.6 856.9,615.9 858.9,621.1 860.9,626.3 862.9,631.5 864.9,636.8 866.9,642.0 868.9,647.2 870.9,652.4 872.9,657.6 874.9,662.7 876.9,667.9 878.9,673.0 880.9,678.2 882.9,683.3 884.9,688.3 886.9,693.4 888.9,698.4 890.9,703.4 892.9,708.4 894.9,713.3 896.9,718.2 898.9,723.1 900.9,727.9 902.9,732.7 904.9,737.4 906.9,742.2 908.9,746.8 910.9,751.5 912.9,756.1 914.9,760.7 916.9,765.2 918.9,769.7 920.9,774.2 922.9,778.7 924.9,783.1 926.9,787.5 928.9,791.8 930.9,796.2 932.9,800.5 934.9,804.7 936.9,809.0 938.9,813.2 940.9,817.4 942.9,821.6 944.9,825.7 946.9,829.8 948.9,833.9 950.9,837.9 952.9,842.0 954.9,846.0 956.9,850.0 958.9,853.9 960.9,857.9 962.9,861.8 964.9,865.7 966.9,869.6 968.9,873.5 970.9,877.3 972.9,881.1 974.9,884.9 976.9,888.7 978.9,892.5 980.9,896.2 982.9,900.0 984.9,903.7 986.9,907.4 988.9,911.1 990.9,914.8 992.9,918.4 994.9,922.1 996.9,925.7 998.9,929.3 1001.0,932.9 1003.0,936.5 1005.0,940.1 1007.0,943.7 1009.0,947.3 1011.0,950.8 1013.0,954.4 1015.0,957.9 1017.0,961.4 1019.0,965.0 1021.0,968.5 1023.0,971.9 1025.0,975.4 1027.0,978.9 1029.0,982.3 1031.0,985.7 1033.0,989.1 1035.0,992.4 1037.0,995.8 1039.0,999.1 1041.0,1002.4 1043.0,1005.6 1045.0,1008.8 1047.0,1012.0 1049.0,1015.1 1051.0,1018.2 1053.0,1021.3 1055.0,1024.3 1057.0,1027.3 1059.0,1030.2 1061.0,1033.1 1063.0,1035.9 1065.0,1038.7 1067.0,1041.5 1069.0,1044.2 1071.0,1046.8 1073.1,1049.4 1075.1,1051.9 1077.1,1054.4 1079.1,1056.8 1081.1,1059.2 1083.1,1061.5 1085.1,1063.7 1087.1,1066.0 1089.1,1068.2 1091.1,1070.3 1093.1,1072.5 1095.1,1074.5 1097.1,1076.6 1099.1,1078.6 1101.2,1080.6 1103.2,1082.6 1105.2,1084.6 1107.2,1086.5 1109.2,1088.5 1111.2,1090.4 1113.2,1092.3 1115.2,1094.2 1117.2,1096.1 1119.2,1098.0 1121.2,1099.9 1123.2,1101.8 1125.2,1103.7 1127.2,1105.6 1129.2,1107.5 1131.2,1109.4 1133.2,1111.3 1135.2,1113.2 1137.2,1115.1 1139.2,1117.0 1141.2,1118.8 1143.2,1120.7 1145.2,1122.5 1147.2,1124.3 1149.2,1126.1 1151.2,1127.8 1153.2,1129.6 1155.2,1131.3 1157.2,1133.0 1159.2,1134.7 1161.2,1136.4 1163.2,1138.1 1165.2,1139.7 1167.2,1141.3 1169.2,1142.9 1171.3,1144.5 1173.3,1146.1 1175.3,1147.7 1177.3,1149.2 1179.3,1150.8 1181.3,1152.3 1183.3,1153.8 1185.3,1155.3 1187.3,1156.8 1189.3,1158.2 1191.3,1159.7 1193.3,1161.1 1195.3,1162.5 1197.3,1163.9 1199.3,1165.3 1203.3,1168.0 1207.3,1170.7 1211.4,1173.3 1215.4,1175.8 1219.4,1178.3 1223.4,1180.8 1227.4,1183.2 1231.4,1185.5 1235.4,1187.8 1239.4,1190.0 1243.4,1192.2 1247.4,1194.4 1251.4,1196.5 1255.5,1198.5 1259.5,1200.5 1263.5,1202.5 1267.5,1204.4 1271.5,1206.3 1275.5,1208.2 1279.5,1209.9 1283.5,1211.7 1287.5,1213.4 1291.5,1215.1 1295.5,1216.8 1299.6,1218.4 1303.6,1219.9 1307.6,1221.5 1311.6,1223.0 1315.6,1224.5 1319.6,1225.9 1323.6,1227.3 1327.6,1228.7 1331.6,1230.1 1335.6,1231.4 1339.6,1232.7 1343.6,1234.0 1347.6,1235.2 1351.7,1236.5 1355.7,1237.7 1359.7,1238.8 1363.7,1240.0 1367.7,1241.1 1371.7,1242.2 1375.7,1243.3 1379.7,1244.3 1383.7,1245.4 1387.7,1246.4 1391.7,1247.3 1395.7,1248.3 1399.7,1249.3 1403.7,1250.2 1407.7,1251.1 1411.7,1251.9 1415.8,1252.8 1419.8,1253.6 1423.8,1254.5 1427.8,1255.3 1431.8,1256.0 1435.8,1256.8 1439.8,1257.5 1443.8,1258.3 1447.8,1259.0 1451.8,1259.7 1455.8,1260.3 1459.8,1261.0 1463.8,1261.6 1467.8,1262.3 1471.8,1262.9 1475.8,1263.5 1479.8,1264.1 1483.8,1264.6 1487.8,1265.2 1491.8,1265.7 1495.8,1266.3 1499.8,1266.8 1503.9,1267.3 1507.9,1267.8 1511.9,1268.3 1515.9,1268.7 1519.9,1269.2 1523.9,1269.7 1527.9,1270.1 1531.9,1270.5 1535.9,1271.0 1539.9,1271.4 1543.9,1271.8 1547.9,1272.2 1551.9,1272.6 1555.9,1273.0 1559.9,1273.3 1563.9,1273.7 1567.9,1274.1 1571.9,1274.4 1575.9,1274.8 1579.9,1275.1 1583.9,1275.5 1587.9,1275.8 1591.9,1276.1 1595.9,1276.4 1599.9,1276.8 1603.9,1277.1 1607.9,1277.4 1611.9,1277.7 1615.9,1278.0 1619.9,1278.3 1623.9,1278.5 1627.9,1278.8 1631.9,1279.1 1635.9,1279.4 1639.9,1279.6 1643.9,1279.9 1647.9,1280.1 1651.9,1280.4 1655.9,1280.6 1659.9,1280.9 1663.9,1281.1 1667.9,1281.3 1671.9,1281.5 1675.9,1281.8 1679.9,1282.0 1683.9,1282.2 1687.9,1282.4 1691.9,1282.6 1695.9,1282.8 1699.9,1283.0 1703.9,1283.2 1707.9,1283.4 1711.9,1283.6 1715.9,1283.7 1719.9,1283.9 1723.9,1284.1 1727.9,1284.3 1731.9,1284.4 1736.0,1284.6 1740.0,1284.8 1744.0,1284.9 1748.0,1285.1 1752.0,1285.3 1756.0,1285.4 1760.0,1285.6 1764.0,1285.7 1768.0,1285.8 1772.0,1286.0 1776.0,1286.1 1780.0,1286.3 1784.0,1286.4 1788.0,1286.5 1792.0,1286.7 1796.0,1286.8 1800.0,1286.9 1804.0,1287.1 1808.0,1287.2 1812.0,1287.3 1816.0,1287.4 1820.0,1287.6 1824.0,1287.7 1828.0,1287.8 1832.0,1287.9 1836.0,1288.0 1840.0,1288.2 1844.0,1288.3 1848.0,1288.4 1852.0,1288.5 1856.0,1288.6 1860.0,1288.7 1864.0,1288.8 1868.0,1289.0 1872.0,1289.1 1876.0,1289.2 1880.0,1289.3 1884.0,1289.4 1888.0,1289.5 1892.0,1289.6" stroke="#0063a6"/>
<path d="M368,461.0 368.5,464.8 369,470.2 369.5,477.0 370,485.3 370.5,496.7 371,510.8 371.5,526.7 372,543.8 372.5,561.2 373,578.3 373.5,594.1 374,608.5 374.5,622.3 375,636.0 375.5,649.4 376,662.8 376.5,676.1 377,689.3 377.5,702.7 378,716.0 378.5,729.2 379,742.3 379.5,755.5 380,768.7 380.5,782.0 381,795.4 381.5,809.0 382,822.8 382.5,836.5 383,850.0 383.5,863.3 384,876.6 386,929.2 388,969.7 390,997.8 392,1016.3 394,1031.3 396,1051.5 398,1069.9 400,1078.2 402,1081.2 404,1082.8 406,1082.5 408,1080.5 410,1077.8 412,1074.3 414,1068.2 416,1060.7 418,1055.3 420,1050.0 422,1044.6 424,1039.0 426,1033.4 428,1027.8 430,1022.1 432,1016.3 434,1010.5 436,1004.6 438,998.7 440,992.7 442,986.7 444,980.6 446,974.4 448,968.2 450,961.9 452,955.6 454,949.2 456,942.7 458,936.2 460,929.6 462,923.0 464,916.2 466,909.5 468,902.6 470,895.7 472,888.7 474,881.6 476,874.5 478,867.3 480,860.0 482,852.6 484,845.2 486,837.7 488,830.2 490,822.5 492,814.8 494,807.0 496,799.1 498,791.2 500,783.1 502,775.0 504,766.8 506,758.5 508,750.2 510,741.7 512,733.2 514,724.6 516,716.0 518,707.3 520,698.5 522,689.7 524,680.9 526,672.1 528,663.2 530,654.3 532,645.5 534,636.6 536,627.8 538,618.9 540,610.1 542,601.3 544,592.6 546,583.9 548,575.3 550,566.7 552,558.2 554,549.8 556,541.5 558,533.3 560,525.1 562,517.1 564,509.2 566,501.3 568,493.6 570,486.1 572,478.6 574,471.3 576,464.1 578,457.0 580,450.1 582,443.3 584,436.7 586,430.2 588,423.9 590,417.8 592,411.8 594,406.1 596,400.5 598,395.1 600,389.9 602,384.8 604,380.0 606,375.4 608,371.0 610,366.8 612,362.9 614,359.1 616,355.6 618,352.4 620,349.4 622,346.6 624,344.1 626,341.9 628,339.9 630,338.0 632,336.3 634,334.7 636,333.1 638,331.5 640,330.0 642,328.3 644,326.6 646,324.8 648,323.1 650,321.4 652,320.0 654,318.8 656,317.9 658,317.2 660,316.6 662,315.8 664,315.0 666,313.9 668,312.9 670,311.8 672,310.7 674,309.8 676,309.1 678,308.5 680,308.2 682,308.0 684,308.0 686,308.2 688,308.5 690,308.9 692,309.5 694,310.3 696,311.1 698,312.0 700,313.1 702,314.2 704,315.5 706,316.8 708,318.2 710,319.7 712,321.2 714,322.9 716,324.6 718,326.5 720,328.4 722,330.4 724,332.6 726,334.8 728,337.1 730,339.5 732,342.0 734,344.7 736,347.4 738,350.3 740,353.2 742,356.3 744,359.5 746,362.7 748,366.1 750,369.5 752,373.1 754,376.7 756,380.4 758,384.1 760,388.0 762,391.8 764,395.8 766,399.8 768,403.8 770,407.9 772,412.0 774,416.2 776,420.4 778,424.6 780,428.8 782,433.0 784,437.3 786,441.5 788,445.8 790,450.1 792,454.4 794,458.8 796,463.1 798,467.6 800,472.0 802,476.5 804,481.0 806,485.5 808,490.1 810,494.7 812,499.4 814,504.1 816,508.9 818,513.7 820,518.5 822,523.4 824,528.3 826,533.3 828,538.3 830,543.3 832,548.3 834,553.4 836,558.4 838,563.6 840,568.7 842,573.8 844,579.0 846,584.2 848,589.4 850,594.6 852,599.8 854,605.0 856,610.2 858,615.4 860,620.7 862,625.9 864,631.1 866,636.3 868,641.6 870,646.8 872,652.0 874,657.1 876,662.3 878,667.5 880,672.6 882,677.7 884,682.8 886,687.9 888,692.9 890,698.0 892,703.0 894,707.9 896,712.9 898,717.8 900,722.6 902,727.4 904,732.2 906,737.0 908,741.7 910,746.4 912,751.0 914,755.6 916,760.2 918,764.7 920,769.3 922,773.7 924,778.2 926,782.6 928,787.0 930,791.3 932,795.7 934,800.0 936,804.2 938,808.5 940,812.7 942,816.9 944,821.0 946,825.2 948,829.3 950,833.3 952,837.4 954,841.4 956,845.5 958,849.4 960,853.4 962,857.3 964,861.3 966,865.2 968,869.0 970,872.9 972,876.7 974,880.6 976,884.4 978,888.1 980,891.9 982,895.7 984,899.4 986,903.1 988,906.8 990,910.5 992,914.2 994,917.8 996,921.5 998,925.1 1000,928.7 1002,932.3 1004,935.9 1006,939.5 1008,943.1 1010,946.7 1012,950.2 1014,953.8 1016,957.3 1018,960.8 1020,964.4 1022,967.9 1024,971.3 1026,974.8 1028,978.3 1030,981.7 1032,985.1 1034,988.5 1036,991.8 1038,995.2 1040,998.5 1042,1001.7 1044,1005.0 1046,1008.2 1048,1011.3 1050,1014.5 1052,1017.6 1054,1020.6 1056,1023.6 1058,1026.6 1060,1029.5 1062,1032.4 1064,1035.2 1066,1038.0 1068,1040.8 1070,1043.4 1072,1046.1 1074,1048.6 1076,1051.1 1078,1053.6 1080,1056.0 1082,1058.4 1084,1060.7 1086,1062.9 1088,1065.2 1090,1067.4 1092,1069.5 1094,1071.6 1096,1073.7 1098,1075.8 1100,1077.8 1102,1079.8 1104,1081.8 1106,1083.7 1108,1085.7 1110,1087.6 1112,1089.5 1114,1091.4 1116,1093.3 1118,1095.2 1120,1097.1 1122,1099.0 1124,1100.9 1126,1102.9 1128,1104.8 1130,1106.7 1132,1108.6 1134,1110.5 1136,1112.4 1138,1114.2 1140,1116.1 1142,1117.9 1144,1119.8 1146,1121.6 1148,1123.4 1150,1125.2 1152,1126.9 1154,1128.7 1156,1130.4 1158,1132.1 1160,1133.8 1162,1135.5 1164,1137.1 1166,1138.8 1168,1140.4 1170,1142.0 1172,1143.6 1174,1145.2 1176,1146.7 1178,1148.3 1180,1149.8 1182,1151.3 1184,1152.8 1186,1154.3 1188,1155.8 1190,1157.2 1192,1158.7 1194,1160.1 1196,1161.5 1198,1162.9 1200,1164.3 1204,1167.0 1208,1169.7 1212,1172.3 1216,1174.8 1220,1177.3 1224,1179.7 1228,1182.1 1232,1184.5 1236,1186.8 1240,1189.0 1244,1191.2 1248,1193.3 1252,1195.4 1256,1197.5 1260,1199.5 1264,1201.4 1268,1203.3 1272,1205.2 1276,1207.1 1280,1208.9 1284,1210.6 1288,1212.3 1292,1214.0 1296,1215.6 1300,1217.3 1304,1218.8 1308,1220.4 1312,1221.9 1316,1223.3 1320,1224.8 1324,1226.2 1328,1227.6 1332,1228.9 1336,1230.3 1340,1231.6 1344,1232.8 1348,1234.1 1352,1235.3 1356,1236.5 1360,1237.7 1364,1238.8 1368,1239.9 1372,1241.0 1376,1242.1 1380,1243.2 1384,1244.2 1388,1245.2 1392,1246.2 1396,1247.1 1400,1248.1 1404,1249.0 1408,1249.9 1412,1250.8 1416,1251.6 1420,1252.5 1424,1253.3 1428,1254.1 1432,1254.9 1436,1255.6 1440,1256.4 1444,1257.1 1448,1257.8 1452,1258.5 1456,1259.2 1460,1259.8 1464,1260.5 1468,1261.1 1472,1261.7 1476,1262.3 1480,1262.9 1484,1263.5 1488,1264.0 1492,1264.6 1496,1265.1 1500,1265.6 1504,1266.1 1508,1266.6 1512,1267.1 1516,1267.6 1520,1268.0 1524,1268.5 1528,1268.9 1532,1269.3 1536,1269.8 1540,1270.2 1544,1270.6 1548,1271.0 1552,1271.4 1556,1271.8 1560,1272.1 1564,1272.5 1568,1272.9 1572,1273.2 1576,1273.6 1580,1273.9 1584,1274.3 1588,1274.6 1592,1274.9 1596,1275.3 1600,1275.6 1604,1275.9 1608,1276.2 1612,1276.5 1616,1276.8 1620,1277.1 1624,1277.3 1628,1277.6 1632,1277.9 1636,1278.2 1640,1278.4 1644,1278.7 1648,1278.9 1652,1279.2 1656,1279.4 1660,1279.7 1664,1279.9 1668,1280.1 1672,1280.3 1676,1280.6 1680,1280.8 1684,1281.0 1688,1281.2 1692,1281.4 1696,1281.6 1700,1281.8 1704,1282.0 1708,1282.2 1712,1282.4 1716,1282.6 1720,1282.7 1724,1282.9 1728,1283.1 1732,1283.2 1736,1283.4 1740,1283.6 1744,1283.7 1748,1283.9 1752,1284.1 1756,1284.2 1760,1284.4 1764,1284.5 1768,1284.6 1772,1284.8 1776,1284.9 1780,1285.1 1784,1285.2 1788,1285.3 1792,1285.5 1796,1285.6 1800,1285.7 1804,1285.9 1808,1286.0 1812,1286.1 1816,1286.2 1820,1286.4 1824,1286.5 1828,1286.6 1832,1286.7 1836,1286.8 1840,1287.0 1844,1287.1 1848,1287.2 1852,1287.3 1856,1287.4 1860,1287.5 1864,1287.6 1868,1287.8 1872,1287.9 1876,1288.0 1880,1288.1 1884,1288.2 1888,1288.3 1892,1288.4" stroke="#0063a6"/>
</g>
<line x1="949.6" y1="591" x2="951.4" y2="1088" stroke="#000" stroke-width="3" shape-rendering="crispEdges"/>
<polygon points="942.8,1086.5 960.2,1086.5 953.4,1119.5 952,1121.5 950.8,1121.5 949.6,1119.5" fill="#000" shape-rendering="crispEdges"/>
<text x="329.6" y="0" text-anchor="end" transform="translate(0,1317.2) scale(1,1.0519)">0</text><text x="329.6" y="0" text-anchor="end" transform="translate(0,1139.4) scale(1,1.0519)">200</text><text x="329.6" y="0" text-anchor="end" transform="translate(0,961.7) scale(1,1.0519)">400</text><text x="329.6" y="0" text-anchor="end" transform="translate(0,783.9) scale(1,1.0519)">600</text><text x="329.6" y="0" text-anchor="end" transform="translate(0,606.1) scale(1,1.0519)">800</text><text x="329.6" y="0" text-anchor="end" transform="translate(0,428.3) scale(1,1.0519)">1000</text><text x="329.6" y="0" text-anchor="end" transform="translate(0,250.6) scale(1,1.0519)">1200</text><text x="329.6" y="0" text-anchor="end" transform="translate(0,72.8) scale(1,1.0519)">1400</text><text x="0" y="0" text-anchor="middle" transform="translate(368.9,1392.9) scale(1.02,1.0519)">300</text><text x="0" y="0" text-anchor="middle" transform="translate(749.9,1392.9) scale(1.02,1.0519)">350</text><text x="0" y="0" text-anchor="middle" transform="translate(1130.9,1392.9) scale(1.02,1.0519)">400</text><text x="0" y="0" text-anchor="middle" transform="translate(1511.8,1392.9) scale(1.02,1.0519)">450</text><text x="0" y="0" text-anchor="middle" transform="translate(1892.8,1392.9) scale(1.02,1.0519)">500</text>
<text x="0" y="0" text-anchor="middle" style="font-size:75.7px" transform="translate(1133,1516.2) scale(1,1.030)">Wavelength (nm)</text>
<text x="0" y="0" text-anchor="middle" style="font-size:77px" transform="translate(79.6,724.2) rotate(-90)">Fluorescence intensity (a.u.)</text>
<text x="1824" y="0" text-anchor="middle" style="font-size:76px" transform="translate(0,135.4) scale(1,1.016)">(B)</text>
</svg>
</body></html>
